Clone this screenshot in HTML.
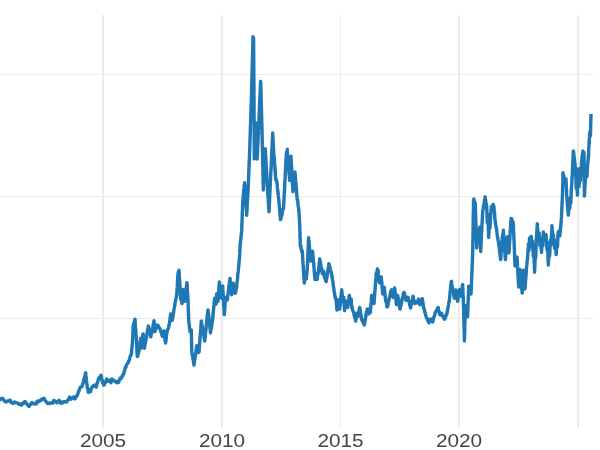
<!DOCTYPE html>
<html><head><meta charset="utf-8"><style>
html,body{margin:0;padding:0;background:#fff;}
svg{display:block;will-change:transform;}
text{font-family:"Liberation Sans",sans-serif;fill:#444;}
</style></head><body>
<svg width="600" height="450" viewBox="0 0 600 450">
<g stroke="#ebebeb" stroke-width="1" fill="none">
<line x1="0" y1="74.5" x2="593" y2="74.5"/>
<line x1="0" y1="196.5" x2="593" y2="196.5"/>
<line x1="0" y1="318.5" x2="593" y2="318.5"/>
</g>
<g stroke="#ebebeb" stroke-width="2" fill="none">
<line x1="103" y1="15" x2="103" y2="427.5"/>
<line x1="222" y1="15" x2="222" y2="427.5"/>
<line x1="340.5" y1="15" x2="340.5" y2="427.5" stroke-width="1"/>
<line x1="459" y1="15" x2="459" y2="427.5"/>
<line x1="578" y1="15" x2="578" y2="427.5"/>
</g>
<path d="M-2.00,399.00 L-1.00,399.09 L0.00,399.77 L1.00,398.80 L2.00,398.22 L2.83,398.50 L3.65,399.67 L4.47,401.20 L5.30,401.40 L6.30,401.96 L7.30,401.06 L8.30,400.96 L9.30,400.46 L10.10,400.02 L10.90,402.20 L11.70,402.63 L12.50,403.26 L13.30,403.19 L14.30,401.91 L15.30,402.51 L16.30,402.74 L17.30,403.11 L18.30,403.47 L19.30,404.37 L20.30,404.05 L21.30,405.09 L21.98,404.47 L22.66,403.16 L23.34,403.71 L24.02,402.34 L24.70,401.56 L25.37,401.89 L26.03,402.73 L26.70,403.93 L27.47,404.71 L28.23,405.88 L29.00,406.35 L29.60,405.35 L30.20,404.36 L30.80,403.87 L31.40,404.06 L32.00,402.53 L32.90,403.31 L33.80,403.87 L34.70,403.57 L35.50,403.57 L36.30,403.97 L37.10,401.24 L37.90,401.94 L38.70,401.67 L39.53,400.58 L40.35,400.82 L41.17,399.86 L42.00,398.92 L43.00,399.21 L44.00,398.18 L44.54,399.39 L45.08,400.56 L45.62,400.99 L46.16,401.82 L46.70,402.46 L47.53,403.49 L48.35,402.89 L49.17,403.33 L50.00,403.62 L50.94,402.80 L51.88,402.56 L52.82,403.26 L53.76,400.45 L54.70,400.90 L55.70,401.54 L56.70,402.72 L57.70,401.87 L58.70,400.55 L59.37,400.55 L60.03,402.83 L60.70,403.14 L61.53,402.05 L62.35,402.96 L63.17,402.54 L64.00,401.34 L64.90,401.54 L65.80,401.73 L66.70,401.93 L67.37,400.75 L68.03,399.84 L68.70,398.81 L69.70,397.10 L70.70,399.16 L71.70,398.59 L72.70,397.68 L73.70,396.99 L74.70,398.84 L75.22,398.62 L75.74,396.49 L76.26,396.51 L76.78,396.31 L77.30,394.73 L77.64,394.81 L77.97,393.42 L78.31,392.19 L78.65,391.50 L78.99,390.74 L79.33,389.58 L79.66,389.14 L80.00,387.58 L81.00,386.71 L82.00,386.59 L82.29,385.37 L82.57,384.01 L82.86,383.91 L83.14,383.21 L83.43,381.38 L83.71,379.99 L84.00,379.67 L84.24,378.67 L84.49,377.65 L84.73,377.49 L84.97,375.38 L85.21,375.52 L85.46,373.35 L85.70,372.85 L85.81,374.29 L85.92,375.52 L86.03,376.39 L86.13,377.16 L86.24,378.06 L86.35,379.07 L86.46,380.26 L86.57,380.92 L86.67,382.12 L86.78,383.25 L86.89,384.00 L87.00,385.13 L87.20,386.29 L87.40,387.97 L87.60,388.27 L87.80,388.99 L88.00,390.05 L88.20,391.25 L88.40,392.46 L89.17,391.62 L89.93,391.72 L90.70,391.54 L91.03,388.84 L91.35,388.49 L91.67,388.11 L92.00,387.07 L92.90,386.50 L93.80,385.37 L94.70,385.18 L95.35,386.15 L96.00,386.89 L96.33,387.12 L96.67,385.17 L97.00,383.74 L97.33,382.95 L97.67,381.89 L98.00,380.99 L98.43,378.74 L98.86,379.03 L99.29,378.95 L99.71,376.96 L100.14,376.68 L100.57,376.36 L101.00,375.18 L101.21,376.70 L101.42,376.21 L101.64,377.84 L101.85,378.84 L102.06,380.29 L102.28,381.50 L102.49,380.78 L102.70,383.20 L103.35,383.22 L104.00,385.15 L104.39,383.41 L104.77,383.37 L105.16,383.02 L105.54,381.50 L105.93,380.81 L106.31,380.26 L106.70,379.03 L107.57,379.60 L108.43,381.41 L109.30,381.29 L110.15,380.42 L111.00,382.74 L111.85,379.02 L112.70,380.02 L113.53,380.00 L114.35,380.80 L115.17,381.74 L116.00,381.77 L116.77,382.63 L117.53,381.39 L118.30,382.54 L118.70,382.42 L119.10,380.75 L119.50,379.83 L119.90,378.72 L120.30,379.23 L120.70,377.85 L121.47,378.04 L122.23,375.72 L123.00,375.70 L123.29,374.15 L123.58,374.07 L123.86,373.48 L124.15,371.26 L124.44,371.47 L124.72,370.19 L125.01,368.61 L125.30,367.30 L125.80,367.48 L126.30,365.65 L126.80,364.36 L127.30,363.79 L127.77,363.03 L128.23,362.75 L128.70,360.77 L129.02,360.60 L129.35,359.79 L129.68,358.77 L130.00,356.96 L130.43,355.58 L130.87,355.58 L131.30,354.03 L131.41,353.06 L131.52,352.73 L131.63,350.86 L131.74,348.80 L131.86,348.80 L131.97,347.03 L132.08,347.43 L132.19,346.17 L132.30,344.87 L132.35,343.99 L132.40,343.44 L132.45,342.04 L132.50,341.71 L132.55,339.97 L132.60,339.57 L132.65,338.81 L132.70,337.88 L132.75,335.63 L132.80,335.49 L132.85,332.96 L132.90,332.40 L132.95,330.90 L133.00,331.60 L133.05,329.30 L133.10,328.99 L133.15,327.89 L133.20,326.98 L133.25,325.66 L133.30,325.05 L133.58,325.19 L133.87,323.19 L134.15,322.58 L134.43,321.96 L134.72,320.29 L135.00,319.18 L135.07,320.16 L135.14,322.11 L135.21,321.51 L135.27,323.11 L135.34,325.03 L135.41,325.89 L135.48,326.43 L135.55,327.88 L135.62,328.50 L135.68,328.73 L135.75,329.50 L135.82,331.01 L135.89,332.88 L135.96,333.04 L136.03,333.84 L136.09,334.91 L136.16,335.48 L136.23,337.25 L136.30,338.04 L136.35,339.48 L136.41,338.99 L136.46,341.43 L136.51,341.89 L136.56,342.19 L136.62,344.59 L136.67,345.04 L136.72,345.00 L136.77,346.70 L136.83,348.29 L136.88,348.89 L136.93,350.51 L136.98,351.48 L137.04,352.42 L137.09,353.23 L137.14,354.72 L137.19,355.36 L137.25,356.24 L137.30,356.58 L137.54,356.51 L137.79,355.78 L138.03,353.97 L138.27,352.92 L138.51,353.25 L138.76,350.31 L139.00,350.40 L139.14,350.57 L139.28,347.81 L139.43,347.67 L139.57,347.30 L139.71,345.24 L139.85,344.60 L139.99,343.79 L140.13,341.81 L140.27,341.25 L140.42,340.46 L140.56,339.75 L140.70,338.29 L140.81,339.24 L140.92,339.84 L141.03,341.24 L141.14,342.96 L141.26,343.58 L141.37,344.11 L141.48,345.16 L141.59,348.06 L141.70,347.94 L141.79,347.04 L141.89,344.33 L141.98,345.03 L142.07,343.96 L142.16,343.60 L142.26,341.93 L142.35,340.66 L142.44,339.98 L142.54,337.64 L142.63,338.27 L142.72,336.88 L142.81,335.31 L142.91,335.44 L143.00,334.10 L143.10,333.94 L143.20,335.37 L143.30,336.92 L143.40,337.89 L143.50,338.59 L143.60,339.30 L143.70,342.00 L143.80,342.43 L143.90,342.25 L144.00,343.20 L144.10,345.84 L144.20,346.48 L144.30,347.94 L144.40,348.17 L144.60,346.49 L144.80,346.07 L145.00,343.72 L145.20,343.44 L145.40,342.78 L145.60,342.06 L145.80,340.34 L146.00,339.67 L146.16,338.98 L146.33,337.95 L146.49,337.12 L146.66,335.90 L146.82,334.62 L146.99,334.28 L147.15,332.88 L147.31,331.40 L147.48,330.53 L147.64,329.91 L147.81,328.87 L147.97,328.05 L148.14,326.98 L148.30,326.04 L148.52,326.92 L148.74,327.26 L148.95,329.25 L149.17,330.61 L149.39,331.25 L149.61,331.89 L149.83,333.26 L150.05,333.45 L150.26,333.92 L150.48,336.03 L150.70,336.79 L150.90,336.49 L151.10,334.52 L151.30,332.71 L151.50,332.68 L151.70,333.26 L151.90,331.20 L152.10,329.69 L152.30,329.11 L152.50,328.94 L152.70,327.82 L152.89,326.77 L153.07,326.52 L153.26,325.03 L153.44,323.57 L153.63,322.91 L153.81,322.52 L154.00,320.73 L154.09,322.06 L154.18,321.77 L154.27,323.28 L154.36,324.74 L154.45,325.10 L154.55,326.84 L154.64,327.52 L154.73,328.66 L154.82,328.97 L154.91,331.49 L155.00,331.28 L155.28,329.87 L155.57,329.05 L155.85,329.56 L156.13,326.79 L156.42,326.53 L156.70,325.24 L157.36,325.67 L158.02,325.36 L158.68,327.13 L159.34,327.93 L160.00,328.67 L160.30,329.77 L160.60,330.31 L160.90,331.81 L161.20,332.62 L161.50,333.42 L161.80,334.33 L162.10,335.16 L162.40,336.46 L162.66,334.63 L162.92,333.82 L163.18,333.12 L163.44,331.21 L163.70,330.90 L163.86,330.86 L164.02,332.61 L164.17,334.32 L164.33,335.32 L164.49,335.97 L164.65,336.87 L164.81,337.21 L164.97,340.01 L165.12,340.28 L165.28,341.60 L165.44,341.52 L165.60,342.96 L165.73,341.04 L165.86,341.47 L165.99,340.58 L166.12,338.05 L166.25,338.09 L166.38,337.49 L166.52,335.18 L166.65,334.16 L166.78,333.61 L166.91,332.88 L167.04,331.46 L167.17,331.29 L167.30,330.36 L167.63,329.81 L167.97,328.97 L168.30,328.59 L168.63,327.50 L168.97,325.06 L169.30,324.87 L169.43,323.38 L169.55,322.37 L169.68,321.95 L169.81,321.00 L169.94,320.29 L170.06,318.05 L170.19,317.26 L170.32,316.99 L170.45,315.88 L170.57,314.81 L170.70,313.98 L170.93,314.53 L171.16,316.43 L171.39,317.22 L171.61,317.95 L171.84,318.59 L172.07,319.89 L172.30,320.34 L172.44,319.44 L172.58,319.07 L172.73,317.17 L172.87,317.22 L173.01,316.21 L173.15,314.31 L173.29,314.02 L173.43,313.01 L173.57,312.51 L173.72,311.63 L173.86,310.25 L174.00,309.09 L174.18,308.24 L174.36,307.31 L174.54,306.85 L174.72,305.59 L174.90,303.97 L175.08,302.59 L175.26,302.25 L175.44,301.03 L175.62,299.82 L175.80,299.49 L175.98,298.27 L176.16,297.69 L176.34,296.99 L176.52,295.40 L176.70,295.32 L176.76,293.47 L176.82,293.38 L176.89,291.72 L176.95,291.36 L177.01,288.03 L177.07,288.09 L177.13,287.73 L177.20,286.95 L177.26,287.10 L177.32,284.73 L177.38,284.36 L177.44,282.99 L177.50,282.10 L177.57,280.78 L177.63,279.31 L177.69,278.75 L177.75,276.63 L177.81,277.18 L177.88,274.63 L177.94,274.49 L178.00,273.90 L178.33,272.03 L178.67,271.11 L179.00,270.35 L179.06,271.00 L179.12,271.40 L179.18,273.13 L179.24,274.34 L179.29,275.41 L179.35,275.36 L179.41,278.09 L179.47,279.01 L179.53,278.85 L179.59,280.01 L179.65,280.51 L179.71,282.75 L179.76,282.29 L179.82,284.21 L179.88,284.41 L179.94,285.25 L180.00,286.89 L180.06,288.59 L180.12,288.69 L180.18,289.25 L180.23,291.24 L180.29,291.67 L180.35,292.90 L180.41,294.69 L180.47,295.44 L180.52,295.36 L180.58,298.17 L180.64,297.70 L180.70,298.90 L181.02,299.34 L181.35,300.82 L181.68,300.75 L182.00,303.48 L182.07,302.89 L182.14,300.27 L182.21,299.10 L182.29,298.05 L182.36,298.86 L182.43,296.83 L182.50,296.11 L182.57,294.97 L182.64,294.11 L182.71,292.50 L182.79,292.25 L182.86,290.31 L182.93,290.23 L183.00,289.38 L183.14,290.61 L183.28,291.15 L183.43,291.70 L183.57,293.41 L183.71,293.98 L183.85,296.33 L183.99,296.80 L184.13,297.22 L184.27,297.99 L184.42,298.85 L184.56,299.70 L184.70,301.21 L184.81,300.49 L184.92,299.63 L185.02,298.67 L185.13,298.66 L185.24,295.84 L185.35,295.31 L185.46,296.13 L185.57,292.07 L185.68,291.96 L185.78,291.41 L185.89,290.40 L186.00,289.41 L186.17,288.09 L186.33,287.45 L186.50,286.19 L186.67,285.63 L186.83,282.75 L187.00,282.76 L187.06,284.00 L187.12,284.30 L187.18,285.30 L187.24,287.42 L187.29,287.57 L187.35,289.42 L187.41,290.49 L187.47,291.20 L187.53,292.33 L187.59,292.93 L187.65,293.08 L187.71,294.98 L187.76,296.29 L187.82,296.66 L187.88,297.94 L187.94,299.48 L188.00,299.78 L188.03,301.41 L188.07,303.18 L188.10,302.65 L188.13,304.09 L188.17,304.91 L188.20,306.96 L188.23,307.20 L188.27,308.55 L188.30,308.58 L188.33,309.99 L188.37,310.99 L188.40,310.92 L188.43,313.87 L188.47,314.54 L188.50,313.95 L188.53,316.45 L188.57,316.92 L188.60,318.27 L188.63,319.22 L188.67,319.12 L188.70,320.95 L188.83,322.88 L188.96,322.66 L189.09,323.40 L189.22,324.21 L189.35,325.29 L189.48,327.19 L189.61,328.97 L189.74,329.25 L189.87,330.14 L190.00,331.51 L191.30,330.09 L191.32,330.91 L191.35,332.57 L191.37,333.56 L191.39,333.68 L191.41,334.59 L191.44,336.38 L191.46,337.34 L191.48,337.48 L191.50,339.07 L191.53,339.87 L191.55,341.40 L191.57,342.07 L191.60,343.08 L191.62,343.92 L191.64,345.65 L191.66,346.81 L191.69,346.88 L191.71,348.50 L191.73,348.65 L191.75,350.06 L191.78,351.40 L191.80,352.31 L191.97,352.80 L192.14,353.96 L192.31,355.10 L192.48,355.23 L192.65,357.01 L192.82,357.66 L192.98,359.19 L193.15,359.43 L193.32,360.01 L193.49,362.02 L193.66,363.13 L193.83,363.73 L194.00,365.17 L194.14,363.87 L194.28,362.70 L194.43,362.24 L194.57,360.22 L194.71,359.66 L194.85,358.99 L194.99,358.43 L195.14,356.92 L195.28,356.16 L195.42,354.66 L195.56,354.16 L195.71,353.86 L195.85,351.64 L195.99,352.23 L196.13,349.66 L196.27,349.01 L196.42,348.09 L196.56,347.54 L196.70,345.74 L197.08,345.79 L197.47,348.35 L197.85,349.45 L198.23,350.35 L198.62,352.49 L199.00,352.05 L199.07,351.13 L199.15,350.48 L199.22,349.19 L199.30,348.87 L199.37,346.35 L199.45,345.80 L199.52,343.17 L199.59,344.43 L199.67,342.80 L199.74,342.50 L199.82,342.16 L199.89,340.00 L199.96,338.86 L200.04,337.73 L200.11,336.54 L200.19,335.65 L200.26,335.35 L200.34,334.02 L200.41,333.04 L200.48,331.90 L200.56,331.52 L200.63,330.28 L200.71,328.92 L200.78,328.38 L200.85,326.91 L200.93,325.34 L201.00,325.84 L201.08,324.27 L201.15,322.44 L201.23,322.63 L201.30,321.08 L201.47,321.07 L201.64,323.95 L201.81,324.20 L201.98,325.52 L202.15,326.12 L202.32,326.91 L202.49,327.10 L202.66,329.56 L202.83,330.02 L203.00,330.84 L203.17,332.20 L203.34,333.04 L203.51,334.38 L203.68,334.79 L203.85,335.98 L204.02,335.80 L204.19,337.76 L204.36,339.37 L204.53,340.74 L204.70,340.92 L204.80,339.95 L204.91,339.90 L205.01,337.87 L205.11,337.47 L205.22,337.01 L205.32,335.12 L205.42,334.79 L205.52,332.73 L205.63,332.26 L205.73,331.11 L205.83,330.24 L205.94,329.83 L206.04,329.57 L206.14,326.84 L206.25,325.90 L206.35,325.54 L206.45,323.65 L206.56,323.57 L206.66,322.63 L206.76,321.15 L206.87,320.64 L206.97,318.42 L207.07,318.81 L207.18,316.45 L207.28,315.97 L207.38,315.07 L207.48,314.18 L207.59,313.96 L207.69,312.50 L207.79,311.22 L207.90,310.82 L208.00,309.89 L208.10,310.48 L208.21,311.68 L208.31,313.20 L208.42,313.58 L208.52,313.62 L208.62,316.88 L208.73,317.68 L208.83,316.14 L208.94,318.29 L209.04,319.54 L209.15,320.84 L209.25,321.64 L209.35,322.07 L209.46,322.59 L209.56,324.25 L209.67,325.77 L209.77,325.52 L209.88,326.53 L209.98,328.09 L210.08,327.98 L210.19,329.91 L210.29,330.79 L210.40,332.27 L210.50,332.84 L210.66,331.48 L210.81,330.73 L210.97,329.91 L211.13,328.53 L211.29,327.90 L211.44,327.31 L211.60,326.54 L211.76,325.83 L211.91,323.35 L212.07,322.54 L212.23,320.29 L212.39,321.88 L212.54,319.29 L212.70,318.69 L212.79,318.03 L212.87,315.93 L212.96,316.04 L213.05,314.76 L213.13,312.69 L213.22,313.00 L213.31,312.57 L213.39,309.71 L213.48,310.38 L213.57,309.03 L213.65,308.21 L213.74,307.22 L213.83,306.78 L213.91,304.84 L214.00,304.22 L214.12,302.74 L214.23,302.46 L214.35,300.48 L214.47,299.93 L214.58,300.12 L214.70,298.12 L214.92,298.90 L215.13,299.25 L215.35,300.48 L215.57,302.13 L215.78,303.61 L216.00,304.11 L216.06,303.38 L216.13,302.06 L216.19,302.00 L216.25,299.93 L216.32,298.88 L216.38,298.84 L216.45,297.36 L216.51,296.18 L216.57,295.04 L216.64,294.29 L216.70,293.66 L216.86,294.71 L217.02,294.65 L217.19,296.71 L217.35,297.52 L217.51,297.72 L217.68,299.85 L217.84,300.14 L218.00,301.21 L218.07,300.82 L218.14,300.17 L218.21,297.89 L218.27,297.62 L218.34,295.79 L218.41,296.87 L218.48,294.05 L218.55,294.17 L218.62,291.97 L218.68,291.94 L218.75,291.88 L218.82,287.74 L218.89,288.15 L218.96,287.78 L219.03,286.40 L219.09,285.02 L219.16,285.93 L219.23,283.54 L219.30,282.05 L219.43,284.10 L219.55,283.35 L219.68,286.32 L219.80,286.16 L219.93,287.66 L220.05,289.42 L220.18,289.67 L220.30,289.67 L220.43,290.49 L220.55,293.41 L220.68,294.13 L220.80,294.11 L220.93,296.22 L221.05,297.00 L221.18,298.11 L221.30,298.12 L221.41,297.53 L221.52,297.33 L221.62,296.25 L221.73,295.37 L221.84,292.20 L221.95,292.95 L222.05,292.19 L222.16,292.58 L222.27,289.27 L222.38,288.71 L222.48,287.98 L222.59,287.57 L222.70,285.88 L222.76,287.77 L222.81,287.48 L222.87,289.18 L222.92,289.65 L222.98,291.10 L223.03,291.55 L223.09,291.95 L223.14,294.71 L223.20,295.20 L223.25,295.64 L223.31,297.13 L223.36,298.64 L223.42,298.37 L223.47,299.93 L223.53,301.34 L223.58,302.33 L223.64,302.79 L223.69,302.68 L223.75,305.78 L223.80,306.20 L223.86,307.01 L223.91,307.83 L223.97,309.16 L224.02,309.74 L224.08,310.37 L224.13,311.55 L224.19,312.64 L224.24,313.63 L224.30,314.72 L224.37,314.40 L224.44,312.24 L224.52,312.45 L224.59,310.45 L224.66,310.30 L224.73,309.95 L224.81,308.24 L224.88,306.68 L224.95,306.18 L225.02,305.26 L225.09,303.09 L225.17,302.82 L225.24,302.32 L225.31,300.94 L225.38,300.30 L225.46,299.74 L225.53,298.78 L225.60,297.53 L226.17,298.66 L226.73,298.87 L227.30,299.99 L227.43,298.80 L227.55,297.74 L227.68,296.80 L227.81,294.76 L227.94,294.65 L228.06,293.82 L228.19,292.17 L228.32,291.77 L228.45,291.10 L228.57,289.62 L228.70,289.26 L228.83,285.97 L228.96,286.62 L229.09,284.55 L229.22,285.49 L229.35,285.66 L229.48,281.16 L229.61,282.00 L229.74,281.30 L229.87,279.76 L230.00,279.15 L230.11,278.43 L230.21,281.55 L230.32,282.20 L230.43,282.94 L230.53,283.51 L230.64,285.32 L230.74,285.54 L230.85,287.00 L230.96,287.49 L231.06,287.31 L231.17,289.77 L231.27,290.91 L231.38,292.26 L231.49,292.16 L231.59,293.70 L231.70,294.86 L231.81,293.82 L231.92,293.57 L232.02,293.09 L232.13,290.20 L232.24,288.54 L232.35,289.42 L232.46,288.90 L232.57,287.52 L232.68,286.48 L232.78,284.53 L232.89,283.49 L233.00,283.24 L233.21,283.30 L233.42,283.61 L233.63,285.12 L233.84,288.47 L234.05,289.01 L234.25,288.15 L234.46,289.06 L234.67,290.65 L234.88,290.92 L235.09,293.25 L235.30,293.28 L235.50,291.62 L235.70,292.30 L235.90,290.07 L236.10,289.68 L236.30,288.58 L236.50,287.43 L236.70,286.79 L236.80,285.20 L236.90,283.39 L237.00,282.11 L237.10,281.71 L237.20,281.03 L237.30,280.50 L237.40,279.52 L237.50,278.84 L237.60,277.51 L237.70,275.84 L237.80,274.87 L237.90,272.84 L238.00,273.25 L238.10,272.62 L238.20,271.63 L238.30,270.14 L238.40,269.08 L238.50,268.86 L238.60,267.17 L238.70,266.67 L238.80,265.54 L238.90,264.25 L239.00,264.02 L239.10,261.63 L239.20,260.76 L239.30,259.76 L239.36,258.41 L239.42,259.15 L239.48,258.30 L239.54,256.02 L239.59,255.42 L239.65,254.88 L239.71,253.61 L239.77,252.91 L239.83,250.05 L239.89,249.52 L239.95,249.34 L240.01,249.09 L240.06,247.08 L240.12,245.34 L240.18,244.73 L240.24,243.49 L240.30,242.73 L240.41,243.17 L240.52,240.51 L240.62,240.02 L240.73,240.71 L240.84,238.94 L240.95,237.27 L241.05,235.51 L241.16,235.33 L241.27,235.30 L241.38,233.50 L241.48,233.02 L241.59,231.08 L241.70,230.17 L241.74,228.84 L241.77,228.35 L241.81,228.06 L241.84,224.83 L241.88,224.95 L241.92,224.20 L241.95,222.53 L241.99,221.75 L242.02,221.65 L242.06,221.66 L242.10,219.52 L242.13,218.27 L242.17,215.70 L242.20,217.62 L242.24,215.06 L242.28,213.97 L242.31,212.05 L242.35,211.95 L242.38,210.07 L242.42,210.06 L242.46,209.40 L242.49,208.03 L242.53,207.24 L242.56,205.27 L242.60,205.49 L242.67,203.43 L242.74,201.41 L242.81,201.84 L242.88,200.33 L242.95,199.11 L243.02,198.69 L243.09,198.26 L243.16,195.95 L243.23,195.88 L243.30,195.51 L243.41,194.61 L243.52,192.86 L243.62,192.12 L243.73,190.89 L243.84,189.96 L243.95,189.67 L244.06,187.92 L244.17,184.80 L244.28,185.98 L244.38,184.18 L244.49,184.60 L244.60,182.77 L244.67,184.14 L244.73,186.99 L244.80,185.04 L244.86,185.98 L244.93,186.72 L244.99,186.83 L245.06,188.30 L245.12,191.33 L245.19,191.43 L245.26,191.33 L245.32,192.68 L245.39,195.55 L245.45,195.31 L245.52,196.67 L245.58,198.29 L245.65,200.20 L245.72,201.71 L245.78,201.90 L245.85,202.13 L245.91,203.16 L245.98,205.57 L246.04,206.24 L246.11,205.73 L246.17,207.39 L246.24,208.25 L246.31,209.04 L246.37,209.57 L246.44,209.87 L246.50,211.55 L246.57,211.69 L246.63,215.03 L246.70,215.18 L246.75,212.98 L246.81,214.18 L246.86,212.76 L246.91,209.37 L246.97,211.57 L247.02,209.69 L247.07,209.77 L247.13,205.94 L247.18,206.46 L247.23,205.37 L247.29,204.18 L247.34,203.15 L247.39,202.92 L247.45,199.69 L247.50,198.91 L247.55,197.77 L247.61,197.51 L247.66,196.46 L247.71,196.33 L247.77,195.24 L247.82,194.03 L247.87,192.39 L247.93,191.60 L247.98,191.86 L248.03,190.69 L248.09,189.09 L248.14,187.71 L248.19,188.41 L248.25,185.46 L248.30,185.24 L248.34,185.06 L248.38,182.76 L248.42,182.76 L248.46,179.97 L248.50,180.94 L248.54,179.19 L248.58,176.52 L248.62,177.62 L248.66,175.17 L248.70,176.20 L248.74,173.36 L248.78,172.84 L248.82,172.27 L248.86,170.69 L248.90,170.25 L248.94,168.47 L248.98,168.64 L249.02,167.01 L249.06,166.20 L249.10,162.35 L249.14,165.12 L249.18,163.03 L249.22,160.27 L249.26,161.09 L249.30,160.45 L249.34,160.04 L249.38,156.94 L249.42,158.52 L249.46,155.84 L249.50,157.36 L249.54,153.86 L249.58,153.67 L249.62,151.64 L249.66,149.89 L249.70,150.44 L249.73,149.91 L249.76,149.54 L249.80,147.86 L249.83,145.42 L249.86,143.32 L249.89,143.34 L249.92,142.32 L249.96,141.17 L249.99,141.59 L250.02,140.33 L250.05,138.72 L250.08,138.18 L250.12,136.85 L250.15,136.22 L250.18,135.78 L250.21,134.99 L250.24,132.29 L250.28,130.43 L250.31,132.49 L250.34,130.12 L250.37,130.16 L250.40,126.28 L250.44,126.65 L250.47,126.03 L250.50,124.39 L250.53,123.45 L250.57,123.77 L250.60,123.15 L250.63,122.70 L250.67,119.08 L250.70,117.50 L250.73,118.56 L250.77,118.01 L250.80,116.21 L250.83,113.59 L250.87,114.85 L250.90,113.86 L250.93,112.60 L250.97,110.47 L251.00,110.33 L251.03,109.87 L251.07,107.39 L251.10,104.97 L251.13,106.36 L251.17,105.53 L251.20,104.01 L251.23,103.99 L251.27,101.35 L251.30,100.91 L251.33,99.66 L251.37,99.64 L251.40,99.79 L251.43,96.72 L251.47,98.32 L251.50,95.69 L251.53,94.89 L251.55,93.67 L251.58,94.01 L251.60,90.79 L251.63,89.87 L251.66,87.79 L251.68,88.54 L251.71,88.54 L251.73,86.61 L251.76,85.49 L251.78,83.77 L251.81,83.20 L251.84,80.35 L251.86,82.22 L251.89,79.52 L251.91,77.71 L251.94,77.12 L251.97,76.03 L251.99,77.00 L252.02,76.25 L252.04,72.40 L252.07,74.09 L252.09,73.05 L252.12,70.31 L252.15,68.23 L252.17,68.11 L252.20,67.24 L252.22,67.41 L252.25,65.57 L252.28,62.56 L252.30,64.28 L252.33,61.15 L252.35,63.09 L252.38,59.54 L252.41,59.16 L252.43,57.96 L252.46,57.34 L252.48,58.58 L252.51,57.04 L252.53,55.74 L252.56,54.39 L252.59,51.10 L252.61,51.36 L252.64,50.32 L252.66,48.79 L252.69,49.63 L252.72,47.08 L252.74,46.12 L252.77,44.70 L252.79,42.43 L252.82,44.74 L252.84,44.67 L252.87,42.22 L252.90,39.77 L252.92,36.59 L252.95,39.22 L252.97,39.54 L253.00,37.15 L253.60,38.17 L253.61,39.87 L253.61,40.42 L253.62,39.44 L253.63,42.32 L253.63,42.97 L253.64,41.07 L253.64,43.49 L253.65,43.22 L253.66,45.86 L253.66,47.72 L253.67,46.67 L253.68,46.45 L253.68,51.60 L253.69,51.46 L253.70,53.81 L253.70,51.37 L253.71,55.30 L253.71,57.54 L253.72,58.45 L253.73,56.74 L253.73,58.33 L253.74,58.81 L253.75,61.21 L253.75,62.26 L253.76,62.11 L253.77,61.36 L253.77,64.89 L253.78,64.44 L253.78,66.75 L253.79,67.31 L253.80,69.94 L253.80,70.35 L253.81,69.46 L253.82,71.41 L253.82,74.09 L253.83,72.37 L253.83,74.51 L253.84,76.40 L253.85,77.48 L253.85,77.61 L253.86,76.46 L253.87,77.53 L253.87,80.29 L253.88,81.45 L253.89,84.95 L253.89,82.00 L253.90,85.31 L253.90,85.89 L253.91,84.08 L253.92,86.06 L253.92,88.19 L253.93,88.44 L253.94,89.82 L253.94,91.53 L253.95,91.08 L253.96,93.53 L253.96,93.28 L253.97,94.39 L253.97,96.60 L253.98,96.36 L253.99,98.32 L253.99,100.79 L254.00,100.01 L254.01,100.84 L254.01,102.82 L254.02,102.59 L254.02,105.20 L254.03,103.58 L254.03,106.68 L254.04,106.44 L254.04,107.12 L254.05,110.94 L254.05,109.07 L254.06,112.91 L254.06,112.72 L254.07,114.58 L254.07,112.94 L254.08,116.29 L254.08,117.57 L254.09,116.87 L254.09,117.86 L254.10,121.63 L254.10,120.19 L254.11,120.55 L254.11,121.33 L254.12,123.47 L254.12,124.35 L254.13,125.19 L254.13,127.81 L254.14,126.66 L254.14,128.50 L254.15,130.53 L254.16,128.95 L254.16,132.08 L254.17,133.90 L254.17,131.60 L254.18,132.86 L254.18,133.93 L254.19,134.10 L254.19,137.47 L254.20,136.10 L254.20,139.51 L254.21,141.48 L254.21,139.36 L254.22,141.68 L254.22,141.06 L254.23,144.79 L254.23,144.26 L254.24,145.73 L254.24,147.05 L254.25,148.55 L254.25,148.65 L254.26,150.02 L254.26,150.46 L254.27,152.11 L254.27,151.84 L254.28,154.06 L254.28,153.10 L254.29,155.52 L254.29,158.88 L254.30,158.03 L254.35,155.76 L254.41,156.25 L254.46,154.04 L254.52,152.37 L254.57,152.27 L254.63,152.73 L254.68,151.38 L254.73,149.90 L254.79,148.07 L254.84,146.92 L254.90,148.36 L254.95,146.25 L255.01,144.04 L255.06,141.86 L255.11,141.61 L255.17,144.52 L255.22,139.83 L255.28,139.92 L255.33,139.22 L255.39,137.84 L255.44,136.71 L255.49,134.58 L255.55,133.91 L255.60,135.75 L255.66,132.21 L255.71,132.88 L255.77,129.23 L255.82,129.71 L255.87,129.27 L255.93,129.09 L255.98,125.82 L256.04,126.63 L256.09,125.41 L256.15,123.22 L256.20,123.20 L256.23,123.05 L256.26,124.16 L256.28,125.98 L256.31,124.15 L256.34,127.88 L256.37,127.95 L256.39,128.47 L256.42,130.56 L256.45,132.79 L256.48,132.58 L256.51,135.31 L256.53,133.80 L256.56,134.65 L256.59,138.59 L256.62,138.41 L256.64,139.97 L256.67,139.16 L256.70,141.82 L256.73,142.26 L256.76,143.66 L256.78,144.03 L256.81,146.22 L256.84,145.35 L256.87,146.03 L256.89,146.52 L256.92,150.16 L256.95,149.26 L256.98,149.96 L257.01,151.07 L257.03,152.56 L257.06,152.75 L257.09,154.71 L257.12,155.38 L257.14,156.46 L257.17,157.06 L257.20,159.01 L257.24,157.55 L257.29,157.11 L257.33,156.25 L257.38,155.34 L257.42,151.84 L257.46,152.47 L257.51,151.21 L257.55,151.77 L257.60,148.43 L257.64,148.29 L257.68,147.71 L257.73,146.66 L257.77,147.00 L257.81,144.55 L257.86,144.98 L257.90,141.51 L257.95,140.16 L257.99,142.24 L258.03,140.45 L258.08,139.50 L258.12,138.13 L258.17,137.50 L258.21,134.75 L258.25,135.98 L258.30,133.45 L258.34,134.02 L258.39,132.09 L258.43,128.94 L258.47,128.65 L258.52,130.18 L258.56,127.86 L258.60,126.58 L258.65,126.26 L258.69,124.55 L258.74,123.42 L258.78,123.11 L258.82,122.15 L258.87,122.62 L258.91,120.05 L258.96,121.02 L259.00,118.77 L259.05,118.85 L259.09,117.15 L259.14,115.14 L259.18,114.15 L259.23,112.85 L259.28,111.20 L259.32,110.93 L259.37,109.30 L259.41,110.80 L259.46,108.59 L259.51,106.51 L259.55,103.89 L259.60,104.94 L259.64,103.54 L259.69,101.79 L259.74,100.74 L259.78,98.49 L259.83,100.64 L259.87,98.93 L259.92,100.90 L259.96,96.97 L260.01,95.83 L260.06,96.63 L260.10,94.15 L260.15,93.19 L260.19,91.58 L260.24,90.31 L260.29,91.71 L260.33,90.14 L260.38,89.97 L260.42,86.60 L260.47,86.03 L260.52,83.98 L260.56,85.12 L260.61,81.39 L260.65,82.66 L260.70,81.51 L260.73,83.64 L260.75,81.91 L260.78,85.26 L260.81,84.18 L260.83,85.13 L260.86,85.48 L260.89,89.32 L260.91,90.88 L260.94,89.32 L260.97,90.14 L260.99,91.61 L261.02,95.84 L261.04,95.14 L261.07,94.39 L261.10,93.98 L261.12,96.24 L261.15,99.33 L261.18,101.09 L261.20,99.70 L261.23,100.23 L261.26,101.43 L261.28,100.91 L261.31,105.01 L261.34,103.80 L261.36,107.17 L261.39,105.12 L261.42,106.61 L261.44,109.32 L261.47,109.17 L261.50,111.85 L261.52,112.01 L261.55,111.72 L261.58,114.67 L261.60,115.91 L261.63,113.94 L261.66,118.96 L261.68,118.53 L261.71,119.81 L261.73,118.01 L261.76,120.23 L261.79,121.63 L261.81,124.14 L261.84,122.45 L261.87,124.07 L261.89,123.86 L261.92,126.75 L261.95,128.36 L261.97,127.23 L262.00,129.75 L262.02,131.53 L262.04,133.65 L262.06,133.69 L262.09,133.69 L262.11,133.78 L262.13,135.04 L262.15,136.32 L262.17,138.15 L262.19,138.95 L262.22,141.70 L262.24,141.29 L262.26,140.91 L262.28,144.56 L262.30,144.96 L262.32,145.10 L262.35,145.27 L262.37,145.12 L262.39,146.98 L262.41,149.91 L262.43,149.20 L262.45,149.69 L262.48,152.19 L262.50,153.24 L262.52,154.60 L262.54,155.65 L262.56,157.38 L262.58,156.18 L262.61,158.96 L262.63,158.04 L262.65,160.67 L262.67,161.17 L262.69,162.24 L262.72,163.93 L262.74,163.98 L262.76,166.07 L262.78,166.84 L262.80,167.13 L262.82,167.46 L262.85,168.28 L262.87,169.50 L262.89,170.81 L262.91,171.98 L262.93,175.81 L262.95,174.60 L262.98,175.72 L263.00,175.20 L263.02,176.34 L263.04,177.70 L263.06,179.18 L263.08,179.04 L263.11,182.49 L263.13,181.48 L263.15,183.99 L263.17,181.86 L263.19,184.99 L263.21,186.25 L263.24,187.17 L263.26,188.54 L263.28,189.25 L263.30,190.06 L263.34,187.29 L263.38,187.35 L263.42,184.87 L263.46,186.57 L263.50,185.28 L263.54,183.82 L263.58,182.25 L263.62,181.46 L263.66,182.70 L263.70,181.60 L263.74,178.95 L263.78,179.20 L263.82,175.52 L263.86,174.19 L263.90,174.55 L263.94,173.18 L263.98,172.47 L264.02,172.18 L264.06,173.86 L264.10,169.37 L264.14,169.05 L264.18,168.26 L264.22,166.97 L264.26,166.89 L264.30,166.71 L264.34,162.80 L264.38,163.16 L264.42,161.74 L264.46,161.35 L264.50,159.40 L264.57,157.32 L264.63,155.81 L264.70,157.64 L264.77,156.36 L264.83,155.28 L264.90,151.91 L264.97,152.92 L265.03,151.58 L265.10,149.97 L265.17,149.50 L265.23,150.16 L265.30,148.72 L265.35,149.46 L265.41,150.98 L265.46,150.85 L265.51,152.51 L265.57,153.46 L265.62,154.95 L265.67,155.32 L265.73,156.23 L265.78,157.23 L265.83,157.71 L265.88,161.51 L265.94,160.81 L265.99,161.71 L266.04,164.50 L266.10,164.62 L266.15,162.75 L266.20,165.90 L266.26,167.02 L266.31,169.01 L266.36,169.44 L266.42,169.91 L266.47,169.04 L266.52,170.32 L266.57,172.38 L266.63,173.59 L266.68,173.13 L266.73,174.72 L266.79,175.69 L266.84,177.10 L266.89,178.34 L266.95,178.75 L267.00,179.54 L267.06,182.15 L267.12,183.47 L267.19,182.90 L267.25,184.94 L267.31,185.41 L267.38,186.60 L267.44,187.44 L267.50,187.31 L267.56,189.52 L267.62,190.91 L267.69,190.19 L267.75,193.77 L267.81,194.87 L267.88,195.63 L267.94,196.77 L268.00,196.66 L268.06,196.70 L268.12,197.47 L268.19,198.28 L268.25,200.10 L268.31,200.97 L268.38,202.59 L268.44,201.24 L268.50,206.01 L268.56,206.97 L268.62,205.98 L268.69,207.58 L268.75,208.41 L268.81,209.23 L268.88,209.82 L268.94,210.90 L269.00,211.72 L269.05,211.15 L269.09,209.98 L269.14,209.27 L269.19,207.27 L269.23,207.03 L269.28,206.04 L269.33,205.52 L269.38,203.08 L269.42,203.37 L269.47,202.86 L269.52,201.52 L269.56,199.68 L269.61,198.57 L269.66,197.79 L269.70,197.65 L269.75,197.38 L269.80,194.86 L269.84,193.43 L269.89,193.34 L269.94,192.18 L269.98,190.18 L270.03,189.34 L270.08,188.91 L270.12,188.61 L270.17,185.92 L270.22,185.07 L270.27,185.46 L270.31,182.88 L270.36,183.10 L270.41,182.32 L270.45,180.90 L270.50,179.62 L270.55,178.94 L270.59,177.69 L270.64,177.31 L270.69,175.22 L270.73,176.02 L270.78,172.43 L270.83,172.83 L270.87,172.01 L270.92,171.91 L270.97,169.42 L271.01,169.52 L271.06,167.46 L271.11,167.71 L271.16,167.67 L271.20,164.61 L271.25,164.43 L271.30,162.10 L271.34,162.94 L271.39,162.18 L271.44,160.03 L271.48,157.89 L271.53,158.39 L271.58,158.13 L271.62,157.07 L271.67,155.80 L271.72,152.19 L271.76,152.33 L271.81,153.41 L271.86,149.78 L271.90,151.13 L271.95,150.88 L272.00,148.76 L272.04,148.13 L272.09,145.66 L272.14,143.76 L272.19,143.90 L272.23,142.80 L272.28,141.95 L272.33,141.71 L272.37,139.85 L272.42,139.20 L272.47,138.44 L272.51,136.99 L272.56,137.90 L272.61,135.46 L272.65,134.09 L272.70,132.91 L272.75,133.35 L272.79,136.39 L272.84,136.15 L272.89,135.89 L272.94,137.42 L272.98,138.86 L273.03,139.54 L273.08,142.11 L273.12,140.82 L273.17,143.50 L273.22,144.15 L273.26,143.81 L273.31,146.05 L273.36,146.91 L273.41,148.50 L273.45,148.55 L273.50,150.12 L273.58,149.34 L273.66,150.92 L273.74,153.78 L273.81,155.03 L273.89,154.99 L273.97,155.41 L274.05,158.07 L274.13,155.95 L274.21,158.22 L274.29,160.66 L274.36,161.64 L274.44,161.00 L274.52,161.17 L274.60,165.40 L274.68,165.15 L274.76,165.14 L274.84,167.05 L274.91,168.86 L274.99,166.53 L275.07,171.06 L275.15,171.70 L275.23,170.03 L275.31,173.73 L275.39,172.32 L275.46,176.07 L275.54,176.37 L275.62,179.11 L275.70,177.77 L275.96,179.00 L276.22,181.01 L276.48,180.38 L276.74,181.32 L277.00,182.86 L277.10,183.93 L277.20,184.01 L277.30,186.44 L277.40,187.50 L277.50,188.07 L277.60,190.55 L277.70,189.70 L277.80,192.18 L277.90,191.51 L278.00,193.68 L278.10,192.26 L278.20,195.18 L278.30,195.84 L278.40,196.56 L278.50,197.46 L278.60,198.69 L278.70,199.36 L278.80,199.07 L278.90,201.48 L279.00,202.52 L279.10,203.54 L279.20,204.08 L279.30,205.88 L279.40,207.68 L279.50,207.78 L279.60,208.58 L279.70,210.47 L279.78,211.78 L279.86,212.69 L279.94,213.83 L280.02,213.52 L280.10,214.64 L280.18,216.64 L280.26,216.18 L280.34,217.50 L280.42,218.87 L280.50,219.62 L280.75,218.30 L281.00,218.44 L281.25,216.47 L281.50,216.30 L281.75,215.65 L282.00,214.33 L282.25,213.44 L282.50,210.80 L282.75,209.71 L283.00,209.36 L283.25,209.38 L283.50,208.54 L283.55,205.95 L283.61,206.26 L283.66,204.26 L283.71,203.36 L283.77,202.76 L283.82,202.60 L283.88,201.19 L283.93,201.04 L283.98,198.13 L284.04,198.78 L284.09,197.82 L284.14,196.06 L284.20,195.42 L284.25,193.50 L284.30,192.02 L284.36,191.64 L284.41,190.42 L284.46,192.61 L284.52,188.56 L284.57,189.50 L284.62,187.18 L284.68,186.28 L284.73,185.68 L284.79,183.29 L284.84,183.84 L284.89,182.35 L284.95,179.60 L285.00,180.22 L285.05,179.51 L285.10,178.42 L285.16,178.48 L285.21,175.61 L285.26,175.48 L285.31,174.70 L285.36,172.15 L285.42,173.13 L285.47,169.63 L285.52,168.77 L285.57,169.50 L285.62,166.96 L285.68,166.89 L285.73,164.42 L285.78,165.07 L285.83,162.91 L285.88,163.33 L285.94,160.51 L285.99,161.44 L286.04,159.74 L286.09,159.06 L286.14,157.93 L286.20,157.13 L286.25,154.70 L286.30,153.99 L286.50,154.03 L286.70,152.05 L286.90,151.54 L287.10,151.44 L287.30,149.19 L287.38,150.24 L287.45,151.39 L287.53,151.95 L287.61,154.32 L287.69,154.86 L287.76,155.19 L287.84,156.03 L287.92,158.79 L288.00,158.35 L288.07,160.57 L288.15,161.44 L288.23,160.16 L288.31,161.95 L288.38,164.00 L288.46,165.33 L288.54,166.75 L288.62,167.77 L288.69,168.99 L288.77,168.64 L288.85,169.80 L288.93,171.74 L289.00,171.60 L289.08,174.00 L289.16,172.50 L289.24,175.61 L289.31,175.84 L289.39,175.16 L289.47,178.91 L289.55,179.29 L289.62,180.02 L289.70,180.60 L289.75,179.59 L289.80,180.44 L289.86,177.29 L289.91,173.84 L289.96,175.30 L290.01,174.00 L290.06,174.02 L290.12,172.79 L290.17,171.32 L290.22,170.40 L290.27,171.21 L290.32,167.87 L290.38,170.13 L290.43,166.76 L290.48,165.25 L290.53,166.08 L290.58,164.88 L290.64,162.35 L290.69,163.11 L290.74,159.61 L290.79,159.52 L290.84,160.54 L290.90,158.21 L290.95,156.20 L291.00,156.70 L291.06,158.38 L291.11,158.45 L291.17,157.70 L291.22,160.11 L291.28,161.84 L291.33,163.16 L291.39,165.19 L291.44,164.15 L291.50,164.91 L291.56,166.32 L291.61,168.50 L291.67,167.43 L291.72,170.56 L291.78,167.70 L291.83,172.05 L291.89,171.64 L291.94,173.70 L292.00,174.90 L292.06,174.13 L292.11,176.14 L292.17,177.43 L292.22,178.74 L292.28,178.32 L292.33,179.25 L292.39,179.38 L292.44,184.48 L292.50,182.95 L292.56,183.91 L292.61,183.73 L292.67,186.93 L292.72,186.58 L292.78,189.36 L292.83,189.81 L292.89,190.05 L292.94,191.67 L293.00,191.60 L293.10,190.73 L293.20,189.53 L293.30,187.92 L293.40,188.12 L293.50,186.99 L293.60,187.47 L293.70,182.09 L293.80,183.58 L293.90,182.38 L294.00,181.82 L294.10,181.67 L294.20,180.68 L294.30,179.35 L294.40,177.91 L294.50,177.84 L294.60,176.74 L294.70,173.69 L294.80,174.20 L294.90,172.17 L295.00,172.05 L295.08,173.62 L295.16,174.52 L295.24,175.55 L295.32,175.60 L295.40,177.21 L295.48,177.53 L295.56,179.72 L295.64,180.98 L295.72,182.94 L295.80,183.47 L295.88,182.54 L295.96,183.84 L296.04,184.38 L296.12,186.50 L296.20,189.00 L296.28,188.82 L296.36,187.17 L296.44,189.00 L296.52,189.95 L296.60,192.56 L296.68,193.08 L296.76,194.33 L296.84,196.63 L296.92,195.28 L297.00,196.70 L297.13,199.75 L297.27,199.30 L297.40,199.31 L297.53,199.20 L297.67,200.65 L297.80,200.85 L297.93,204.06 L298.07,205.04 L298.20,206.87 L298.33,206.88 L298.47,207.40 L298.60,208.36 L298.73,211.64 L298.87,209.48 L299.00,212.06 L299.05,213.02 L299.11,214.52 L299.16,214.66 L299.22,216.42 L299.27,217.68 L299.32,217.88 L299.38,218.62 L299.43,219.85 L299.48,220.20 L299.54,221.83 L299.59,222.75 L299.65,224.17 L299.70,225.44 L299.73,227.06 L299.76,226.64 L299.79,228.49 L299.82,229.24 L299.85,230.61 L299.88,231.02 L299.91,232.21 L299.94,232.63 L299.97,233.38 L300.00,235.69 L300.03,237.03 L300.06,237.52 L300.09,238.34 L300.12,239.21 L300.15,239.65 L300.18,239.61 L300.21,242.51 L300.24,243.15 L300.27,243.57 L300.30,244.70 L300.59,247.00 L300.87,245.45 L301.16,249.30 L301.44,249.34 L301.73,251.69 L302.01,250.17 L302.30,251.69 L302.36,252.33 L302.43,253.84 L302.49,254.57 L302.56,255.18 L302.62,257.55 L302.69,257.18 L302.75,258.39 L302.82,260.18 L302.88,260.39 L302.95,261.48 L303.01,263.07 L303.07,263.55 L303.14,263.93 L303.20,265.76 L303.27,266.69 L303.33,269.07 L303.40,268.08 L303.46,270.56 L303.53,270.33 L303.59,271.64 L303.65,272.67 L303.72,274.10 L303.78,275.53 L303.85,277.15 L303.91,276.50 L303.98,278.87 L304.04,279.65 L304.11,280.53 L304.17,280.46 L304.24,282.60 L304.30,282.97 L304.42,282.24 L304.54,280.81 L304.66,280.46 L304.78,279.77 L304.90,278.79 L305.02,276.86 L305.14,276.70 L305.26,276.02 L305.38,273.34 L305.50,273.42 L305.63,273.06 L305.77,275.38 L305.90,276.42 L306.03,278.04 L306.17,278.19 L306.30,278.87 L306.40,277.45 L306.50,276.13 L306.60,276.54 L306.70,274.83 L306.80,273.50 L306.90,273.38 L307.00,271.46 L307.10,270.69 L307.20,269.87 L307.24,270.19 L307.28,269.07 L307.33,266.93 L307.37,264.93 L307.41,265.28 L307.45,264.14 L307.50,263.36 L307.54,262.53 L307.58,260.90 L307.62,260.83 L307.67,259.78 L307.71,258.34 L307.75,256.90 L307.79,255.86 L307.84,255.74 L307.88,253.42 L307.92,253.14 L307.96,251.71 L308.01,250.24 L308.05,250.76 L308.09,249.30 L308.13,248.36 L308.18,248.02 L308.22,245.22 L308.26,245.33 L308.30,244.62 L308.35,244.05 L308.39,241.58 L308.43,242.00 L308.47,240.63 L308.52,240.53 L308.56,239.38 L308.60,237.67 L308.69,240.17 L308.78,239.46 L308.86,240.10 L308.95,241.15 L309.04,241.66 L309.12,243.35 L309.21,242.90 L309.30,245.27 L309.39,246.64 L309.48,248.05 L309.56,248.01 L309.65,250.31 L309.74,249.73 L309.82,251.11 L309.91,250.77 L310.00,252.59 L310.09,253.55 L310.18,256.22 L310.26,256.49 L310.35,256.28 L310.44,258.45 L310.52,259.39 L310.61,259.85 L310.70,261.01 L310.77,259.78 L310.83,258.61 L310.90,256.72 L310.97,256.93 L311.03,256.93 L311.10,256.04 L311.17,253.80 L311.23,252.45 L311.30,251.94 L311.42,253.66 L311.53,254.26 L311.65,254.57 L311.77,256.26 L311.88,256.85 L312.00,258.15 L312.09,256.70 L312.17,254.93 L312.26,255.04 L312.34,254.56 L312.43,252.19 L312.51,251.92 L312.60,251.26 L312.68,251.71 L312.77,252.49 L312.85,255.43 L312.93,255.54 L313.01,256.66 L313.10,256.21 L313.18,259.06 L313.26,257.67 L313.34,259.47 L313.43,261.36 L313.51,262.76 L313.59,262.13 L313.68,263.31 L313.76,264.90 L313.84,264.39 L313.92,267.17 L314.01,268.10 L314.09,268.38 L314.17,270.04 L314.26,271.19 L314.34,271.85 L314.42,272.98 L314.50,274.64 L314.59,274.26 L314.67,275.68 L314.75,276.20 L314.83,278.23 L314.92,278.24 L315.00,279.63 L315.14,278.59 L315.29,277.55 L315.43,277.67 L315.57,275.44 L315.71,275.47 L315.86,274.07 L316.00,272.86 L316.14,273.39 L316.29,275.14 L316.43,276.02 L316.57,276.08 L316.71,277.68 L316.86,278.41 L317.00,279.49 L317.19,279.46 L317.37,277.15 L317.56,275.56 L317.74,274.58 L317.93,274.54 L318.11,273.48 L318.30,273.00 L318.40,272.39 L318.50,272.21 L318.60,270.21 L318.70,269.32 L318.80,267.49 L318.90,267.40 L319.00,266.95 L319.10,265.94 L319.20,262.63 L319.30,263.63 L319.40,263.12 L319.50,261.59 L319.60,258.94 L319.70,258.91 L319.89,260.42 L320.07,261.30 L320.26,261.42 L320.44,262.36 L320.63,264.69 L320.81,264.05 L321.00,266.41 L321.19,267.01 L321.37,268.21 L321.56,268.06 L321.74,269.58 L321.93,271.48 L322.11,270.98 L322.30,273.57 L323.00,270.96 L323.70,271.46 L323.83,273.03 L323.97,274.33 L324.10,275.50 L324.23,275.75 L324.37,276.86 L324.50,277.94 L324.93,278.44 L325.35,277.80 L325.77,281.35 L326.20,281.58 L326.36,280.63 L326.51,279.13 L326.67,278.75 L326.82,277.60 L326.98,276.59 L327.13,276.42 L327.29,273.52 L327.44,273.89 L327.60,272.02 L327.76,271.56 L327.91,271.84 L328.07,269.08 L328.22,268.79 L328.38,267.48 L328.53,267.58 L328.69,265.26 L328.84,263.79 L329.00,264.15 L329.25,264.74 L329.50,265.77 L329.75,267.78 L330.00,267.36 L330.25,268.73 L330.50,270.04 L330.80,271.37 L331.10,271.78 L331.40,273.96 L331.70,274.93 L331.84,275.02 L331.99,277.56 L332.13,275.88 L332.28,279.24 L332.42,279.07 L332.57,280.39 L332.71,281.07 L332.86,281.88 L333.00,282.96 L333.14,284.00 L333.29,286.06 L333.43,286.92 L333.57,286.90 L333.71,287.74 L333.86,288.59 L334.00,289.23 L334.14,292.12 L334.29,292.34 L334.43,292.95 L334.57,293.52 L334.71,294.14 L334.86,296.57 L335.00,296.90 L335.33,296.81 L335.67,298.92 L336.00,298.69 L336.09,300.39 L336.18,300.41 L336.27,301.75 L336.36,303.30 L336.45,304.26 L336.55,305.61 L336.64,305.50 L336.73,307.94 L336.82,308.80 L336.91,308.99 L337.00,310.11 L337.13,308.54 L337.26,307.91 L337.39,306.21 L337.52,306.05 L337.65,305.12 L337.78,304.82 L337.91,303.58 L338.04,302.50 L338.17,300.78 L338.30,299.94 L338.46,300.76 L338.61,302.07 L338.77,301.71 L338.92,304.34 L339.08,303.88 L339.23,305.49 L339.39,306.78 L339.54,307.42 L339.70,309.10 L339.81,307.66 L339.91,307.67 L340.02,306.45 L340.12,304.46 L340.23,304.02 L340.33,303.59 L340.44,301.61 L340.54,300.88 L340.65,299.50 L340.75,298.89 L340.86,297.65 L340.96,296.94 L341.07,296.53 L341.17,295.80 L341.28,294.02 L341.38,293.08 L341.49,292.51 L341.59,290.80 L341.70,289.73 L341.81,291.71 L341.92,291.41 L342.02,293.59 L342.13,293.39 L342.24,296.15 L342.35,295.35 L342.46,297.53 L342.57,298.93 L342.68,298.41 L342.78,300.91 L342.89,300.49 L343.00,301.57 L343.20,301.45 L343.40,300.44 L343.60,298.87 L343.80,297.36 L343.86,298.93 L343.92,299.74 L343.98,300.65 L344.05,301.67 L344.11,301.72 L344.17,303.43 L344.23,305.81 L344.29,306.62 L344.35,306.44 L344.42,307.19 L344.48,308.81 L344.54,310.17 L344.60,310.67 L344.74,308.85 L344.88,308.70 L345.02,307.73 L345.16,307.57 L345.30,306.48 L345.44,305.12 L345.58,304.59 L345.72,302.66 L345.86,302.90 L346.00,300.89 L346.24,302.15 L346.49,303.38 L346.73,303.12 L346.97,304.16 L347.21,304.39 L347.46,306.50 L347.70,307.29 L347.84,306.12 L347.98,305.64 L348.12,303.06 L348.27,303.35 L348.41,302.44 L348.55,301.24 L348.69,300.91 L348.83,300.52 L348.97,298.17 L349.12,296.88 L349.26,296.10 L349.40,295.52 L349.54,296.81 L349.67,296.84 L349.81,298.94 L349.95,298.61 L350.09,300.70 L350.23,301.39 L350.36,302.35 L350.50,303.53 L350.68,301.84 L350.85,300.90 L351.02,300.30 L351.20,299.22 L351.26,299.22 L351.32,301.24 L351.39,301.66 L351.45,303.53 L351.51,305.01 L351.57,305.26 L351.64,306.20 L351.70,307.34 L352.06,306.32 L352.42,309.68 L352.78,310.48 L353.14,311.17 L353.50,311.90 L353.75,312.56 L354.00,313.89 L354.25,315.73 L354.50,315.98 L354.74,317.80 L354.98,316.48 L355.22,318.73 L355.46,320.16 L355.70,321.00 L355.86,319.04 L356.02,318.62 L356.19,318.73 L356.35,316.25 L356.51,315.42 L356.68,314.36 L356.84,313.67 L357.00,313.15 L357.33,314.37 L357.67,313.74 L358.00,316.36 L358.19,314.70 L358.38,313.76 L358.57,314.16 L358.76,312.17 L358.94,310.53 L359.13,309.95 L359.32,308.95 L359.51,307.83 L359.70,307.42 L359.87,309.01 L360.03,309.68 L360.20,309.62 L360.37,313.10 L360.53,311.83 L360.70,313.47 L360.87,314.40 L361.03,315.81 L361.20,316.16 L361.37,317.60 L361.53,319.54 L361.70,319.32 L362.13,319.56 L362.57,321.41 L363.00,321.64 L363.43,322.87 L363.87,324.17 L364.30,325.08 L364.47,323.84 L364.64,323.48 L364.81,321.89 L364.98,320.25 L365.15,320.51 L365.32,318.79 L365.49,318.70 L365.66,316.62 L365.83,316.34 L366.00,315.07 L366.25,312.37 L366.50,312.09 L366.75,311.32 L367.00,311.86 L367.25,308.84 L367.50,309.23 L367.70,310.66 L367.90,311.30 L368.10,312.40 L368.30,312.70 L368.50,314.00 L368.74,313.14 L368.98,312.26 L369.22,311.43 L369.46,309.87 L369.70,308.83 L369.85,309.66 L370.00,311.24 L370.15,311.02 L370.30,312.70 L370.38,311.76 L370.46,310.67 L370.53,309.84 L370.61,307.42 L370.69,307.80 L370.77,306.85 L370.84,306.47 L370.92,303.81 L371.00,303.82 L371.08,303.29 L371.16,302.30 L371.23,301.73 L371.31,300.65 L371.39,298.35 L371.47,298.39 L371.54,296.79 L371.62,295.50 L371.70,295.38 L371.96,295.56 L372.21,296.38 L372.47,297.64 L372.72,298.32 L372.98,300.48 L373.23,301.04 L373.49,302.66 L373.74,302.99 L374.00,303.54 L374.07,303.35 L374.15,301.32 L374.22,300.45 L374.30,299.64 L374.37,298.77 L374.45,298.50 L374.52,296.39 L374.59,296.00 L374.67,294.77 L374.74,293.01 L374.82,292.12 L374.89,291.68 L374.96,291.08 L375.04,290.04 L375.11,289.15 L375.19,287.89 L375.26,286.58 L375.34,286.15 L375.41,284.23 L375.48,283.02 L375.56,282.69 L375.63,280.97 L375.71,280.58 L375.78,279.44 L375.85,278.57 L375.93,277.92 L376.00,276.43 L376.08,275.69 L376.15,273.83 L376.23,274.09 L376.30,272.76 L376.87,272.51 L377.43,268.91 L378.00,270.22 L378.11,271.63 L378.22,270.76 L378.32,273.14 L378.43,274.41 L378.54,275.38 L378.65,275.26 L378.75,277.39 L378.86,278.29 L378.97,278.50 L379.08,280.61 L379.18,281.04 L379.29,282.05 L379.40,282.88 L379.72,282.38 L380.03,281.07 L380.35,280.80 L380.67,279.32 L380.98,277.56 L381.30,276.94 L381.38,278.60 L381.45,278.72 L381.53,280.20 L381.61,281.27 L381.68,281.79 L381.76,281.36 L381.84,283.96 L381.91,285.00 L381.99,285.93 L382.06,286.33 L382.14,288.59 L382.22,288.70 L382.29,289.37 L382.37,290.29 L382.45,291.96 L382.52,292.03 L382.60,293.45 L382.88,294.04 L383.17,292.58 L383.45,291.41 L383.73,290.62 L384.02,289.10 L384.30,287.24 L384.41,289.50 L384.52,290.54 L384.62,291.08 L384.73,290.54 L384.84,293.61 L384.95,294.71 L385.05,294.55 L385.16,295.97 L385.27,297.40 L385.38,297.88 L385.48,299.64 L385.59,300.03 L385.70,301.17 L385.98,301.97 L386.27,301.87 L386.55,303.11 L386.83,306.71 L387.12,305.76 L387.40,306.84 L387.63,306.27 L387.86,305.68 L388.09,304.00 L388.32,302.32 L388.55,301.76 L388.78,299.57 L389.01,299.73 L389.24,299.48 L389.47,296.55 L389.70,297.05 L389.91,296.60 L390.12,295.99 L390.34,293.58 L390.55,292.82 L390.76,291.08 L390.97,290.70 L391.19,290.79 L391.40,290.05 L391.60,289.68 L391.80,292.28 L392.00,292.59 L392.20,292.93 L392.40,295.62 L392.60,293.49 L392.80,296.02 L393.00,297.06 L393.18,297.37 L393.36,296.16 L393.53,295.46 L393.71,293.09 L393.89,292.64 L394.07,291.89 L394.24,290.34 L394.42,289.24 L394.60,287.95 L394.71,288.72 L394.81,289.17 L394.92,292.20 L395.03,291.64 L395.13,291.57 L395.24,294.06 L395.34,294.85 L395.45,295.96 L395.56,297.98 L395.66,297.75 L395.77,298.63 L395.88,299.31 L395.98,300.74 L396.09,301.47 L396.19,302.85 L396.30,304.47 L396.46,302.98 L396.61,301.23 L396.77,302.01 L396.92,300.38 L397.08,299.38 L397.23,298.35 L397.39,297.46 L397.54,296.40 L397.70,295.36 L397.86,296.64 L398.03,297.86 L398.19,297.68 L398.36,299.00 L398.52,299.54 L398.69,301.60 L398.85,302.52 L399.01,302.71 L399.18,304.36 L399.34,306.63 L399.51,306.76 L399.67,306.31 L399.84,307.94 L400.00,309.15 L400.22,308.01 L400.44,307.31 L400.67,306.84 L400.89,305.34 L401.11,303.47 L401.33,303.65 L401.56,302.17 L401.78,301.34 L402.00,300.15 L402.25,298.43 L402.50,297.54 L402.75,297.14 L403.00,295.70 L403.25,293.63 L403.50,295.21 L403.75,292.70 L404.00,292.31 L404.25,293.83 L404.50,292.85 L404.75,296.31 L405.00,295.89 L405.25,297.81 L405.50,298.04 L405.75,299.52 L406.00,300.33 L406.77,299.63 L407.53,297.24 L408.30,297.74 L408.53,299.24 L408.76,301.15 L408.99,300.86 L409.22,302.52 L409.45,303.25 L409.68,304.43 L409.91,305.72 L410.14,305.12 L410.37,307.20 L410.60,307.96 L410.82,306.81 L411.04,305.47 L411.25,304.51 L411.47,303.35 L411.69,302.30 L411.91,303.60 L412.13,302.09 L412.35,300.01 L412.56,299.48 L412.78,297.37 L413.00,296.28 L413.29,296.75 L413.57,299.01 L413.86,300.82 L414.14,300.80 L414.43,301.13 L414.71,302.59 L415.00,303.44 L415.90,301.66 L416.80,302.93 L417.70,302.79 L417.93,301.48 L418.15,300.43 L418.38,299.40 L418.60,299.06 L418.83,300.90 L419.07,300.87 L419.30,303.43 L419.53,301.97 L419.77,304.17 L420.00,304.71 L420.38,303.89 L420.77,303.07 L421.15,302.38 L421.53,301.77 L421.92,299.62 L422.30,298.66 L422.46,299.85 L422.61,301.12 L422.77,301.46 L422.92,303.42 L423.08,304.88 L423.23,303.92 L423.39,305.99 L423.54,307.36 L423.70,307.23 L423.96,308.76 L424.22,309.42 L424.48,309.60 L424.74,312.24 L425.00,312.49 L425.26,312.98 L425.52,314.48 L425.78,315.54 L426.04,316.54 L426.30,317.14 L426.70,318.26 L427.10,318.25 L427.50,319.73 L427.90,321.08 L428.30,321.30 L428.97,322.90 L429.63,320.17 L430.30,319.37 L431.10,318.95 L431.90,321.44 L432.70,322.01 L432.95,320.71 L433.21,319.88 L433.46,318.65 L433.72,317.80 L433.97,317.26 L434.23,315.99 L434.48,315.86 L434.74,314.42 L434.99,313.65 L435.25,312.89 L435.50,312.02 L436.04,311.35 L436.58,310.27 L437.12,309.18 L437.66,307.89 L438.20,307.60 L438.42,309.17 L438.63,309.94 L438.85,310.61 L439.07,311.09 L439.28,312.02 L439.50,314.08 L440.35,315.00 L441.20,313.68 L441.69,313.40 L442.17,315.07 L442.66,316.23 L443.14,316.29 L443.63,318.03 L444.11,318.51 L444.60,319.27 L444.94,317.79 L445.29,318.16 L445.63,316.94 L445.97,315.22 L446.31,314.21 L446.66,314.50 L447.00,313.15 L447.19,311.81 L447.38,311.97 L447.57,309.82 L447.77,308.35 L447.96,308.67 L448.15,306.88 L448.34,306.21 L448.53,305.02 L448.73,303.37 L448.92,302.25 L449.11,301.88 L449.30,301.36 L449.40,299.40 L449.50,299.90 L449.60,298.21 L449.70,296.40 L449.80,296.29 L449.90,295.51 L450.00,293.60 L450.10,291.84 L450.20,292.45 L450.30,290.53 L450.40,290.56 L450.50,288.06 L450.60,288.23 L450.70,286.82 L450.80,285.40 L450.90,285.24 L451.00,284.54 L451.10,283.08 L451.20,281.69 L451.30,281.56 L451.50,281.26 L451.70,283.76 L451.90,284.68 L452.10,286.43 L452.30,286.84 L452.50,287.44 L452.70,288.33 L452.90,289.12 L453.10,289.17 L453.30,291.39 L453.44,292.34 L453.59,292.82 L453.73,293.26 L453.87,295.95 L454.01,296.34 L454.16,296.25 L454.30,298.17 L454.51,298.22 L454.73,295.99 L454.94,295.26 L455.15,293.73 L455.36,292.59 L455.57,292.71 L455.79,293.03 L456.00,290.03 L456.15,290.92 L456.29,292.51 L456.44,292.80 L456.58,294.47 L456.73,295.53 L456.87,295.35 L457.02,296.32 L457.16,297.95 L457.31,299.52 L457.45,300.17 L457.60,301.31 L457.78,299.17 L457.95,299.40 L458.12,297.73 L458.30,297.23 L458.48,296.41 L458.65,294.63 L458.82,294.14 L459.00,292.58 L459.18,292.55 L459.35,290.86 L459.52,290.13 L459.70,289.56 L459.89,290.00 L460.07,292.11 L460.26,291.87 L460.44,293.77 L460.63,294.33 L460.81,294.40 L461.00,295.94 L461.15,294.46 L461.31,293.77 L461.46,292.83 L461.62,293.18 L461.77,290.73 L461.93,291.02 L462.08,289.29 L462.24,287.14 L462.39,285.48 L462.55,286.45 L462.70,284.47 L462.74,286.47 L462.78,287.67 L462.82,288.25 L462.86,288.87 L462.90,289.84 L462.94,291.17 L462.98,291.81 L463.02,292.66 L463.06,293.77 L463.10,295.74 L463.14,295.61 L463.18,297.24 L463.22,297.28 L463.26,298.56 L463.30,299.15 L463.34,300.88 L463.38,302.42 L463.42,303.19 L463.46,303.70 L463.50,305.15 L463.52,305.79 L463.55,307.22 L463.57,308.16 L463.60,309.32 L463.62,308.53 L463.65,310.23 L463.68,312.46 L463.70,312.94 L463.73,315.31 L463.75,314.86 L463.77,315.68 L463.80,317.86 L463.82,318.32 L463.85,320.08 L463.88,320.29 L463.90,320.88 L463.93,322.41 L463.95,322.56 L463.97,323.75 L464.00,324.69 L464.02,325.88 L464.05,327.43 L464.07,327.74 L464.10,329.18 L464.12,329.73 L464.15,331.48 L464.17,330.51 L464.20,332.89 L464.22,334.09 L464.25,334.42 L464.27,336.54 L464.30,337.11 L464.32,338.68 L464.35,339.50 L464.38,340.33 L464.40,340.97 L464.43,339.43 L464.46,338.88 L464.49,337.76 L464.51,337.13 L464.54,335.75 L464.57,336.63 L464.60,333.14 L464.63,333.63 L464.66,331.75 L464.69,330.87 L464.71,330.50 L464.74,329.00 L464.77,327.33 L464.80,327.23 L464.83,325.89 L464.86,323.85 L464.89,324.11 L464.91,322.41 L464.94,321.58 L464.97,321.27 L465.00,320.17 L465.03,318.83 L465.06,319.24 L465.09,317.24 L465.11,315.65 L465.14,315.14 L465.17,313.93 L465.20,311.71 L465.23,311.08 L465.26,310.18 L465.29,311.22 L465.31,308.89 L465.34,307.84 L465.37,306.66 L465.40,306.24 L466.50,305.01 L466.59,306.99 L466.68,307.39 L466.77,308.86 L466.87,308.76 L466.96,310.01 L467.05,310.49 L467.14,311.61 L467.23,311.65 L467.33,313.28 L467.42,314.03 L467.51,315.16 L467.60,316.78 L467.64,315.67 L467.67,315.24 L467.71,314.05 L467.74,313.10 L467.78,312.17 L467.81,310.24 L467.85,310.09 L467.88,308.44 L467.92,307.33 L467.95,307.38 L467.99,306.98 L468.03,304.10 L468.06,304.76 L468.10,303.23 L468.13,301.23 L468.17,300.93 L468.20,300.00 L468.24,299.02 L468.27,297.59 L468.31,296.02 L468.35,295.86 L468.38,295.39 L468.42,294.36 L468.45,293.30 L468.49,292.60 L468.52,290.29 L468.56,289.91 L468.59,289.17 L468.63,288.61 L468.66,287.08 L468.70,286.13 L468.90,287.09 L469.10,289.38 L469.30,287.57 L469.50,289.98 L469.70,291.65 L470.13,292.17 L470.57,291.71 L471.00,294.04 L471.04,292.10 L471.09,291.57 L471.13,291.14 L471.18,291.09 L471.22,289.30 L471.26,288.43 L471.31,287.66 L471.35,286.13 L471.39,284.44 L471.44,283.94 L471.48,283.22 L471.52,281.82 L471.57,280.56 L471.61,279.76 L471.66,278.01 L471.70,277.73 L471.74,276.94 L471.78,275.76 L471.82,275.03 L471.86,274.95 L471.90,273.20 L471.94,271.98 L471.98,270.20 L472.02,269.26 L472.06,269.26 L472.10,267.40 L472.14,267.30 L472.18,265.26 L472.22,265.09 L472.26,263.95 L472.30,263.70 L472.34,261.73 L472.38,260.74 L472.42,260.17 L472.46,259.04 L472.50,259.20 L472.54,256.82 L472.58,255.62 L472.62,254.77 L472.66,254.34 L472.70,253.07 L472.72,252.50 L472.73,250.00 L472.75,251.80 L472.76,250.34 L472.78,247.98 L472.79,246.11 L472.81,246.11 L472.83,245.31 L472.84,242.34 L472.86,243.01 L472.87,240.90 L472.89,241.34 L472.91,241.04 L472.92,239.78 L472.94,236.86 L472.95,238.05 L472.97,236.69 L472.98,234.72 L473.00,234.38 L473.02,234.16 L473.03,231.74 L473.05,230.99 L473.06,229.57 L473.08,229.90 L473.09,226.32 L473.11,228.11 L473.13,225.24 L473.14,225.73 L473.16,222.72 L473.17,222.26 L473.19,221.53 L473.21,221.66 L473.22,218.71 L473.24,219.48 L473.25,217.49 L473.27,218.00 L473.28,215.75 L473.30,215.16 L473.32,213.89 L473.34,214.52 L473.36,211.80 L473.38,211.10 L473.39,211.78 L473.41,209.25 L473.43,208.78 L473.45,206.64 L473.47,206.45 L473.49,203.43 L473.51,204.43 L473.53,202.83 L473.54,201.15 L473.56,200.25 L473.58,201.43 L473.60,199.64 L473.94,199.00 L474.28,202.97 L474.62,201.56 L474.96,202.76 L475.30,204.09 L475.33,204.05 L475.36,204.66 L475.40,206.38 L475.43,208.97 L475.46,209.78 L475.49,208.70 L475.52,211.98 L475.55,212.03 L475.59,213.41 L475.62,214.04 L475.65,215.33 L475.68,215.19 L475.71,216.27 L475.75,217.44 L475.78,218.71 L475.81,220.49 L475.84,220.03 L475.87,223.26 L475.90,222.50 L475.94,223.54 L475.97,225.55 L476.00,226.34 L476.03,226.74 L476.06,227.17 L476.10,228.22 L476.13,228.76 L476.16,231.88 L476.19,232.83 L476.22,234.43 L476.25,234.38 L476.29,235.25 L476.32,236.58 L476.35,237.72 L476.38,237.80 L476.41,239.27 L476.45,241.62 L476.48,239.73 L476.51,240.95 L476.54,242.28 L476.57,244.56 L476.60,245.88 L476.64,245.75 L476.67,247.49 L476.70,247.99 L476.77,247.22 L476.84,245.60 L476.92,244.98 L476.99,244.00 L477.06,243.84 L477.13,243.67 L477.21,239.64 L477.28,240.40 L477.35,239.00 L477.42,238.73 L477.49,237.81 L477.57,236.60 L477.64,235.62 L477.71,233.27 L477.78,231.69 L477.86,233.29 L477.93,231.94 L478.00,229.70 L478.67,230.77 L479.33,229.41 L480.00,226.90 L480.03,229.70 L480.06,229.24 L480.09,231.90 L480.12,231.48 L480.15,232.43 L480.18,232.82 L480.21,234.83 L480.24,236.77 L480.27,236.49 L480.30,236.59 L480.33,240.62 L480.37,241.39 L480.40,241.52 L480.43,241.60 L480.46,242.10 L480.49,242.78 L480.52,245.41 L480.55,246.96 L480.58,246.22 L480.61,248.00 L480.64,248.80 L480.67,249.81 L480.70,251.15 L480.75,251.53 L480.80,248.53 L480.85,248.62 L480.90,247.80 L480.95,245.79 L481.00,244.89 L481.05,243.00 L481.10,243.80 L481.15,241.60 L481.20,240.51 L481.25,240.05 L481.30,238.35 L481.35,237.21 L481.40,236.77 L481.45,237.13 L481.50,234.84 L481.55,234.40 L481.60,231.87 L481.65,230.50 L481.70,232.41 L481.75,229.69 L481.80,227.80 L481.85,227.92 L481.90,227.48 L481.95,224.64 L482.00,224.30 L482.05,224.21 L482.10,222.27 L482.15,222.63 L482.20,221.77 L482.25,220.35 L482.30,218.66 L482.35,217.96 L482.40,216.49 L482.45,215.89 L482.50,215.26 L482.55,213.76 L482.60,213.79 L482.65,214.13 L482.70,210.82 L482.86,210.32 L483.03,209.76 L483.19,208.65 L483.36,206.94 L483.52,205.77 L483.69,206.07 L483.85,204.78 L484.01,203.72 L484.18,201.63 L484.34,201.90 L484.51,201.08 L484.67,199.27 L484.84,199.02 L485.00,198.26 L485.17,196.82 L485.34,199.93 L485.51,199.34 L485.68,200.12 L485.85,202.05 L486.02,203.67 L486.19,204.19 L486.36,204.10 L486.53,204.82 L486.70,206.81 L486.74,208.01 L486.78,208.31 L486.82,208.76 L486.86,212.44 L486.90,211.31 L486.94,212.87 L486.98,213.55 L487.02,214.52 L487.06,216.03 L487.10,216.76 L487.14,218.50 L487.18,218.05 L487.22,218.81 L487.26,222.56 L487.30,221.98 L487.36,221.62 L487.43,220.95 L487.49,219.45 L487.55,218.03 L487.61,215.74 L487.68,214.70 L487.74,215.80 L487.80,214.22 L487.84,215.46 L487.88,214.65 L487.91,215.27 L487.95,217.15 L487.99,218.05 L488.02,220.13 L488.06,220.18 L488.10,223.26 L488.14,222.50 L488.18,223.55 L488.21,225.68 L488.25,226.26 L488.29,226.29 L488.32,228.64 L488.36,230.50 L488.40,229.04 L488.44,230.81 L488.48,231.16 L488.51,231.50 L488.55,234.48 L488.59,235.54 L488.62,236.75 L488.66,237.33 L488.70,237.39 L488.74,236.98 L488.77,235.49 L488.81,234.09 L488.85,233.15 L488.89,233.59 L488.93,231.77 L488.96,232.53 L489.00,230.37 L489.04,227.50 L489.07,228.70 L489.11,227.99 L489.15,226.02 L489.19,224.04 L489.23,225.41 L489.26,221.95 L489.30,221.97 L489.42,221.46 L489.53,222.99 L489.65,223.64 L489.77,226.87 L489.88,227.94 L490.00,227.87 L490.06,225.93 L490.12,225.95 L490.18,225.30 L490.24,222.78 L490.30,222.07 L490.35,221.92 L490.41,221.57 L490.47,220.06 L490.53,219.36 L490.59,216.98 L490.65,214.97 L490.71,216.26 L490.77,214.25 L490.83,213.90 L490.89,212.69 L490.95,212.40 L491.00,210.36 L491.06,211.20 L491.12,209.03 L491.18,208.44 L491.24,207.53 L491.30,206.35 L492.20,207.10 L493.10,204.40 L494.00,207.13 L494.09,210.03 L494.17,209.83 L494.26,210.87 L494.35,211.76 L494.43,211.80 L494.52,212.74 L494.61,213.73 L494.69,216.19 L494.78,216.50 L494.87,218.63 L494.95,218.54 L495.04,220.64 L495.13,220.44 L495.21,220.07 L495.30,222.56 L495.45,223.28 L495.61,224.97 L495.76,225.17 L495.92,225.73 L496.07,227.14 L496.22,227.10 L496.38,228.04 L496.53,229.29 L496.68,230.58 L496.84,230.92 L496.99,232.92 L497.15,234.24 L497.30,235.64 L497.45,237.45 L497.61,236.96 L497.76,238.69 L497.92,238.83 L498.07,240.30 L498.22,240.97 L498.38,241.58 L498.53,243.06 L498.68,242.86 L498.84,245.34 L498.99,245.78 L499.15,246.17 L499.30,247.89 L499.42,249.42 L499.53,249.49 L499.65,251.36 L499.77,252.43 L499.88,254.16 L500.00,253.19 L500.12,254.92 L500.23,256.38 L500.35,258.10 L500.47,258.19 L500.58,259.55 L500.70,259.57 L500.76,258.58 L500.83,259.21 L500.89,256.79 L500.96,257.58 L501.02,254.46 L501.09,253.79 L501.15,251.82 L501.22,252.47 L501.28,251.20 L501.35,251.51 L501.42,249.12 L501.48,247.81 L501.55,245.94 L501.61,245.94 L501.68,245.72 L501.74,244.56 L501.81,243.94 L501.87,242.66 L501.94,240.96 L502.00,240.19 L502.14,239.19 L502.29,237.06 L502.43,238.52 L502.58,236.52 L502.72,234.44 L502.87,234.64 L503.01,233.62 L503.16,233.24 L503.30,231.96 L503.38,230.09 L503.45,233.94 L503.53,235.71 L503.60,234.76 L503.68,235.05 L503.75,237.72 L503.82,238.76 L503.90,239.77 L503.98,239.64 L504.05,241.14 L504.12,242.65 L504.20,244.07 L504.27,246.18 L504.35,245.72 L504.43,246.04 L504.50,245.71 L504.57,249.31 L504.65,249.40 L504.72,250.42 L504.80,250.76 L504.88,253.05 L504.95,252.17 L505.02,254.58 L505.10,255.59 L505.17,256.72 L505.25,258.46 L505.32,258.43 L505.40,259.53 L505.48,259.15 L505.57,256.40 L505.65,256.35 L505.73,255.64 L505.81,255.32 L505.90,253.03 L505.98,253.25 L506.06,251.96 L506.14,249.58 L506.23,248.60 L506.31,247.65 L506.39,247.87 L506.47,246.94 L506.56,246.36 L506.64,245.46 L506.72,243.42 L506.80,243.69 L506.89,242.53 L506.97,241.28 L507.05,240.31 L507.13,237.95 L507.22,238.26 L507.30,236.68 L507.41,237.03 L507.51,238.66 L507.62,240.02 L507.73,240.83 L507.83,241.59 L507.94,242.04 L508.04,243.93 L508.15,244.18 L508.26,244.64 L508.36,246.76 L508.47,248.77 L508.57,248.32 L508.68,248.79 L508.79,251.61 L508.89,252.82 L509.00,252.41 L509.06,251.36 L509.11,250.69 L509.17,251.77 L509.23,248.66 L509.29,248.33 L509.34,246.92 L509.40,244.21 L509.46,243.77 L509.51,242.68 L509.57,242.98 L509.63,241.74 L509.69,242.06 L509.74,239.48 L509.80,238.94 L509.86,237.77 L509.91,236.84 L509.97,237.57 L510.03,234.98 L510.09,234.94 L510.14,233.82 L510.20,231.32 L510.26,231.36 L510.31,229.52 L510.37,228.93 L510.43,227.98 L510.49,226.89 L510.54,225.50 L510.60,226.17 L510.66,223.70 L510.71,223.50 L510.77,223.32 L510.83,221.47 L510.89,220.82 L510.94,220.14 L511.00,218.36 L511.38,220.56 L511.77,218.70 L512.15,222.77 L512.53,222.03 L512.92,221.43 L513.30,223.77 L513.34,223.86 L513.39,225.98 L513.43,225.79 L513.47,227.19 L513.51,229.24 L513.56,230.13 L513.60,230.36 L513.64,231.81 L513.69,232.92 L513.73,234.06 L513.77,234.99 L513.81,235.83 L513.86,237.69 L513.90,236.74 L513.94,238.61 L513.99,240.10 L514.03,240.69 L514.07,241.57 L514.11,242.66 L514.16,244.16 L514.20,245.38 L514.24,245.86 L514.28,246.80 L514.31,248.27 L514.35,248.82 L514.39,248.54 L514.43,251.20 L514.47,251.72 L514.50,252.57 L514.54,254.47 L514.58,255.03 L514.62,255.58 L514.66,255.39 L514.70,256.73 L514.73,259.01 L514.77,259.91 L514.81,261.32 L514.85,262.16 L514.89,262.65 L514.92,263.09 L514.96,264.21 L515.00,265.96 L515.22,264.14 L515.44,264.57 L515.67,262.00 L515.89,260.65 L516.11,260.85 L516.33,258.66 L516.56,260.24 L516.78,257.24 L517.00,256.98 L517.06,257.82 L517.11,258.40 L517.17,258.70 L517.23,259.64 L517.28,262.63 L517.34,263.74 L517.40,265.57 L517.45,263.94 L517.51,266.40 L517.57,266.99 L517.62,268.60 L517.68,268.63 L517.74,270.51 L517.79,271.63 L517.85,272.43 L517.91,274.02 L517.96,273.88 L518.02,276.08 L518.08,275.51 L518.13,278.16 L518.19,276.10 L518.25,279.01 L518.30,279.45 L518.36,281.00 L518.42,282.70 L518.47,283.49 L518.53,284.06 L518.59,286.15 L518.64,285.01 L518.70,286.78 L518.78,287.02 L518.85,285.22 L518.93,282.59 L519.01,283.23 L519.08,281.19 L519.16,282.01 L519.24,280.79 L519.31,278.62 L519.39,278.89 L519.46,276.42 L519.54,276.64 L519.62,275.40 L519.69,273.91 L519.77,272.00 L519.85,271.80 L519.92,269.38 L520.00,269.84 L520.10,269.69 L520.19,272.86 L520.29,272.32 L520.38,272.29 L520.48,275.41 L520.57,276.26 L520.67,276.65 L520.77,279.47 L520.86,279.53 L520.96,280.05 L521.05,280.56 L521.15,279.98 L521.24,283.33 L521.34,284.65 L521.43,284.60 L521.53,285.05 L521.63,286.97 L521.72,286.88 L521.82,289.00 L521.91,290.51 L522.01,292.00 L522.10,292.17 L522.20,293.05 L522.26,292.49 L522.31,291.92 L522.37,289.79 L522.43,288.18 L522.48,287.47 L522.54,286.16 L522.60,285.40 L522.65,284.92 L522.71,284.23 L522.77,283.11 L522.82,282.05 L522.88,280.76 L522.93,280.29 L522.99,279.61 L523.05,278.52 L523.10,278.04 L523.16,275.80 L523.22,274.82 L523.27,275.19 L523.33,273.14 L523.39,272.29 L523.44,270.76 L523.50,270.28 L523.58,270.71 L523.66,271.29 L523.74,272.96 L523.82,273.69 L523.89,275.58 L523.97,275.74 L524.05,277.09 L524.13,277.85 L524.21,279.23 L524.29,279.57 L524.37,281.76 L524.45,281.03 L524.53,282.74 L524.61,283.52 L524.68,285.44 L524.76,286.03 L524.84,287.33 L524.92,287.78 L525.00,288.81 L525.07,287.25 L525.14,286.78 L525.21,285.64 L525.29,285.19 L525.36,284.24 L525.43,283.66 L525.50,281.93 L525.57,280.49 L525.64,279.27 L525.71,279.04 L525.79,278.25 L525.86,278.35 L525.93,276.13 L526.00,276.23 L526.07,275.31 L526.14,272.26 L526.21,272.85 L526.29,271.81 L526.36,270.96 L526.43,268.99 L526.50,268.27 L526.60,266.65 L526.70,265.95 L526.80,265.01 L526.90,265.30 L527.00,262.84 L527.10,262.70 L527.20,261.05 L527.30,259.48 L527.40,259.18 L527.50,258.49 L527.60,256.47 L527.70,256.19 L527.77,254.47 L527.83,253.34 L527.90,253.17 L527.97,251.82 L528.03,250.26 L528.10,248.76 L528.17,249.02 L528.23,248.19 L528.30,246.65 L528.37,246.14 L528.43,243.82 L528.50,244.12 L528.58,245.32 L528.67,246.21 L528.75,246.53 L528.83,248.06 L528.92,249.10 L529.00,250.33 L529.04,249.25 L529.08,248.28 L529.12,246.57 L529.17,246.83 L529.21,246.11 L529.25,243.87 L529.29,243.79 L529.33,242.57 L529.38,241.34 L529.42,239.41 L529.46,240.83 L529.50,237.91 L529.63,239.66 L529.77,240.04 L529.90,242.15 L530.03,241.83 L530.17,243.11 L530.30,244.19 L530.42,243.42 L530.55,241.72 L530.67,241.72 L530.80,240.56 L530.92,240.09 L531.05,237.97 L531.17,237.40 L531.30,236.38 L531.37,236.79 L531.44,238.60 L531.51,239.67 L531.58,241.41 L531.65,241.00 L531.72,242.50 L531.79,244.03 L531.86,244.01 L531.93,245.10 L532.00,246.04 L532.10,244.47 L532.20,243.23 L532.30,243.87 L532.40,242.13 L532.50,240.98 L532.55,241.04 L532.61,243.09 L532.66,244.90 L532.71,244.12 L532.77,245.32 L532.82,247.85 L532.87,249.09 L532.93,250.18 L532.98,249.58 L533.03,251.45 L533.09,251.44 L533.14,253.39 L533.19,253.73 L533.25,255.15 L533.30,256.40 L533.38,255.25 L533.47,253.82 L533.55,253.04 L533.63,252.20 L533.72,250.61 L533.80,250.06 L533.84,251.43 L533.87,253.12 L533.91,251.39 L533.95,253.02 L533.98,253.97 L534.02,256.51 L534.05,258.64 L534.09,257.96 L534.13,258.88 L534.16,260.60 L534.20,258.98 L534.24,261.60 L534.27,260.45 L534.31,263.79 L534.35,264.29 L534.38,265.29 L534.42,266.86 L534.45,267.18 L534.49,269.35 L534.53,269.54 L534.56,270.79 L534.60,272.21 L534.64,270.21 L534.68,270.21 L534.72,268.00 L534.76,268.50 L534.81,267.33 L534.85,265.78 L534.89,265.42 L534.93,264.89 L534.97,263.76 L535.01,261.80 L535.05,260.78 L535.09,260.66 L535.14,257.81 L535.18,257.47 L535.22,257.30 L535.26,256.39 L535.30,255.55 L535.43,257.31 L535.57,257.24 L535.70,258.13 L535.73,256.03 L535.77,255.86 L535.80,255.19 L535.83,253.83 L535.87,253.04 L535.90,252.45 L535.93,250.29 L535.97,249.57 L536.00,247.66 L536.03,248.86 L536.07,246.20 L536.10,244.71 L536.13,245.59 L536.17,243.84 L536.20,243.74 L536.23,241.72 L536.27,242.64 L536.30,240.22 L536.36,239.12 L536.42,238.09 L536.49,236.84 L536.55,236.63 L536.61,236.57 L536.67,233.67 L536.74,232.14 L536.80,232.19 L536.86,231.85 L536.92,228.81 L536.99,228.45 L537.05,227.20 L537.11,227.45 L537.17,226.41 L537.24,224.41 L537.30,223.63 L537.38,225.55 L537.45,224.34 L537.52,227.52 L537.60,227.88 L537.67,230.54 L537.75,230.79 L537.82,230.54 L537.90,231.78 L537.98,232.78 L538.05,233.43 L538.12,235.06 L538.20,236.75 L538.27,235.82 L538.35,237.82 L538.42,240.16 L538.50,240.23 L538.57,238.37 L538.64,237.37 L538.71,236.33 L538.79,234.75 L538.86,235.90 L538.93,234.05 L539.00,232.78 L539.08,232.87 L539.15,234.70 L539.23,235.60 L539.31,238.34 L539.38,237.64 L539.46,239.09 L539.54,240.83 L539.62,241.51 L539.69,241.86 L539.77,241.33 L539.85,245.07 L539.92,245.45 L540.00,245.87 L540.06,244.93 L540.12,243.27 L540.19,242.31 L540.25,240.87 L540.31,241.38 L540.38,240.40 L540.44,239.13 L540.50,238.24 L540.57,239.38 L540.63,240.03 L540.70,240.22 L540.77,242.32 L540.83,243.74 L540.90,244.28 L540.97,245.71 L541.03,245.38 L541.10,245.96 L541.17,248.61 L541.23,248.20 L541.30,249.78 L541.37,250.42 L541.43,251.55 L541.50,252.42 L541.56,251.14 L541.62,249.25 L541.68,251.04 L541.75,248.81 L541.81,246.25 L541.87,246.05 L541.93,244.92 L541.99,244.25 L542.05,241.91 L542.12,243.32 L542.18,243.17 L542.24,240.77 L542.30,240.23 L542.38,241.46 L542.47,241.05 L542.55,243.93 L542.63,242.72 L542.72,244.56 L542.80,245.89 L542.84,245.95 L542.87,244.09 L542.91,242.91 L542.94,241.39 L542.98,241.07 L543.01,240.03 L543.05,239.56 L543.09,239.07 L543.12,237.57 L543.16,236.01 L543.19,234.88 L543.23,235.25 L543.26,233.16 L543.30,231.99 L543.47,234.43 L543.65,235.25 L543.83,235.45 L544.00,235.91 L544.17,236.50 L544.35,238.84 L544.53,238.65 L544.70,240.30 L544.85,238.39 L545.00,238.08 L545.15,237.32 L545.30,236.05 L545.65,235.46 L546.00,234.64 L546.06,234.60 L546.12,235.58 L546.19,237.29 L546.25,239.76 L546.31,239.25 L546.38,239.60 L546.44,240.78 L546.50,242.28 L546.56,244.11 L546.62,243.76 L546.69,245.58 L546.75,246.27 L546.81,246.83 L546.88,247.36 L546.94,248.92 L547.00,249.79 L547.07,249.40 L547.14,246.69 L547.21,247.84 L547.29,246.57 L547.36,245.44 L547.43,245.13 L547.50,243.18 L547.53,242.69 L547.57,245.00 L547.60,246.27 L547.64,246.40 L547.67,247.05 L547.71,249.19 L547.74,250.23 L547.78,250.51 L547.81,251.63 L547.85,252.41 L547.88,253.35 L547.92,254.70 L547.95,256.50 L547.99,255.53 L548.02,257.43 L548.06,259.81 L548.09,259.86 L548.13,260.72 L548.16,262.18 L548.20,261.85 L548.23,262.69 L548.27,263.35 L548.30,265.09 L548.34,264.71 L548.39,264.16 L548.43,262.30 L548.47,261.14 L548.52,260.94 L548.56,260.13 L548.61,258.90 L548.65,256.38 L548.69,256.39 L548.74,253.98 L548.78,255.02 L548.83,253.26 L548.87,252.43 L548.91,253.04 L548.96,251.94 L549.00,250.14 L549.10,251.20 L549.20,252.13 L549.30,252.57 L549.40,253.96 L549.50,256.40 L549.60,255.75 L549.66,254.52 L549.71,254.12 L549.77,253.65 L549.83,252.61 L549.88,250.29 L549.94,249.90 L549.99,248.80 L550.05,247.08 L550.11,247.06 L550.16,245.64 L550.22,245.69 L550.27,244.33 L550.33,242.41 L550.39,242.06 L550.44,240.73 L550.50,239.81 L550.60,240.63 L550.70,242.81 L550.80,242.69 L550.90,242.71 L551.00,244.77 L551.05,244.61 L551.11,244.62 L551.16,241.20 L551.21,240.73 L551.26,239.75 L551.32,237.93 L551.37,238.31 L551.42,236.96 L551.47,236.21 L551.53,236.73 L551.58,233.79 L551.63,233.62 L551.68,232.65 L551.74,230.50 L551.79,229.54 L551.84,230.22 L551.89,228.56 L551.95,227.11 L552.00,225.65 L552.07,227.70 L552.14,228.42 L552.21,230.73 L552.29,231.16 L552.36,231.63 L552.43,232.21 L552.50,233.05 L552.57,233.57 L552.64,235.24 L552.71,236.19 L552.79,237.50 L552.86,238.83 L552.93,239.24 L553.00,239.83 L553.10,239.62 L553.20,239.19 L553.30,236.36 L553.40,236.32 L553.50,235.17 L553.58,236.41 L553.65,237.39 L553.73,237.93 L553.81,238.92 L553.88,241.28 L553.96,242.32 L554.04,240.94 L554.12,241.09 L554.19,244.33 L554.27,244.49 L554.35,245.61 L554.42,245.81 L554.50,248.11 L554.60,246.96 L554.70,245.60 L554.80,245.68 L554.90,245.83 L555.00,243.45 L555.10,244.84 L555.20,244.61 L555.30,246.37 L555.40,246.81 L555.50,248.66 L555.60,249.18 L555.70,249.68 L555.80,251.08 L555.90,251.10 L556.00,253.17 L556.10,254.64 L556.20,254.39 L556.25,253.94 L556.31,251.35 L556.36,252.29 L556.41,251.28 L556.47,248.91 L556.52,249.99 L556.57,247.82 L556.63,245.48 L556.68,244.78 L556.73,245.49 L556.79,243.66 L556.84,243.73 L556.89,240.76 L556.95,240.89 L557.00,240.30 L557.08,240.49 L557.17,242.52 L557.25,242.73 L557.33,244.26 L557.42,245.24 L557.50,246.67 L557.54,244.08 L557.58,244.58 L557.62,243.99 L557.67,241.15 L557.71,241.06 L557.75,241.75 L557.79,239.80 L557.83,235.74 L557.88,236.82 L557.92,234.69 L557.96,235.23 L558.00,233.78 L558.33,232.53 L558.67,231.30 L559.00,231.10 L559.16,231.63 L559.32,232.29 L559.48,233.82 L559.64,235.32 L559.80,235.73 L559.89,235.86 L559.99,232.71 L560.08,233.32 L560.17,231.70 L560.27,232.23 L560.36,229.49 L560.46,228.48 L560.55,226.94 L560.64,228.58 L560.74,226.49 L560.83,224.13 L560.92,223.73 L561.02,222.23 L561.11,223.23 L561.21,221.34 L561.30,219.34 L561.35,219.17 L561.40,218.74 L561.44,217.00 L561.49,216.39 L561.54,214.91 L561.59,214.17 L561.64,213.18 L561.68,211.42 L561.73,211.29 L561.78,210.14 L561.83,208.97 L561.88,207.43 L561.92,206.15 L561.97,206.21 L562.02,205.69 L562.07,201.96 L562.12,202.55 L562.16,203.15 L562.21,201.78 L562.26,199.39 L562.31,200.16 L562.36,197.15 L562.40,196.32 L562.45,197.67 L562.50,194.85 L562.52,193.84 L562.55,191.61 L562.57,191.19 L562.59,190.07 L562.61,189.99 L562.64,187.53 L562.66,189.09 L562.68,186.87 L562.70,185.67 L562.73,184.67 L562.75,184.91 L562.77,184.64 L562.80,181.93 L562.82,182.76 L562.84,181.79 L562.86,180.57 L562.89,178.66 L562.91,176.06 L562.93,177.04 L562.95,175.08 L562.98,174.65 L563.00,172.81 L563.21,174.16 L563.43,175.58 L563.64,175.40 L563.86,177.49 L564.07,179.71 L564.29,179.29 L564.50,179.74 L565.25,184.59 L566.00,178.93 L566.05,180.64 L566.10,182.80 L566.15,182.88 L566.20,182.33 L566.25,185.57 L566.30,187.05 L566.35,186.58 L566.40,189.54 L566.45,189.66 L566.50,191.23 L566.55,189.82 L566.60,192.12 L566.65,194.49 L566.70,195.81 L566.75,196.17 L566.80,196.00 L566.88,197.16 L566.96,197.46 L567.03,199.94 L567.11,199.40 L567.19,201.11 L567.27,200.24 L567.34,201.72 L567.42,205.51 L567.50,205.02 L567.57,206.14 L567.65,205.06 L567.72,207.84 L567.79,210.55 L567.86,208.52 L567.94,208.75 L568.01,211.55 L568.08,212.20 L568.15,213.42 L568.23,213.51 L568.30,215.05 L568.38,213.52 L568.47,214.11 L568.55,212.59 L568.63,212.35 L568.72,209.81 L568.80,210.24 L568.88,208.42 L568.97,207.91 L569.05,207.66 L569.13,205.94 L569.22,204.66 L569.30,203.43 L569.40,205.05 L569.50,206.66 L569.60,206.47 L569.70,207.94 L569.80,208.40 L569.85,206.88 L569.89,207.34 L569.94,207.09 L569.98,204.74 L570.03,202.58 L570.07,202.68 L570.12,200.66 L570.16,200.76 L570.21,201.66 L570.25,199.26 L570.30,197.95 L570.40,199.90 L570.50,199.67 L570.60,201.29 L570.70,202.17 L570.80,203.15 L570.84,200.74 L570.88,201.61 L570.92,200.76 L570.95,197.03 L570.99,195.66 L571.03,196.22 L571.07,197.30 L571.11,195.02 L571.15,194.59 L571.18,193.49 L571.22,192.78 L571.26,190.44 L571.30,189.79 L571.37,189.33 L571.43,188.54 L571.50,187.51 L571.57,186.30 L571.63,184.56 L571.70,185.00 L571.77,183.43 L571.83,182.96 L571.90,178.69 L571.97,180.92 L572.03,176.77 L572.10,178.19 L572.17,176.39 L572.23,176.11 L572.30,174.82 L572.34,173.73 L572.38,173.22 L572.42,172.38 L572.47,170.34 L572.51,167.74 L572.55,168.39 L572.59,168.65 L572.63,166.37 L572.67,166.59 L572.72,164.86 L572.76,163.33 L572.80,164.36 L572.84,163.85 L572.88,161.19 L572.92,160.26 L572.97,160.25 L573.01,157.07 L573.05,156.53 L573.09,157.49 L573.13,156.29 L573.17,153.96 L573.22,152.70 L573.26,152.82 L573.30,150.95 L573.43,151.98 L573.56,153.21 L573.69,151.98 L573.82,155.96 L573.95,157.10 L574.08,158.37 L574.21,156.89 L574.34,158.01 L574.46,159.44 L574.59,159.94 L574.72,164.17 L574.85,162.20 L574.98,163.82 L575.11,165.29 L575.24,166.50 L575.37,168.42 L575.50,167.58 L575.53,169.83 L575.57,170.14 L575.61,169.90 L575.64,172.14 L575.67,171.69 L575.71,175.51 L575.75,174.32 L575.78,176.93 L575.82,178.20 L575.85,177.43 L575.88,178.17 L575.92,180.12 L575.96,180.04 L575.99,182.82 L576.03,183.16 L576.06,183.31 L576.10,184.38 L576.13,186.66 L576.17,185.69 L576.20,188.61 L576.23,186.29 L576.27,185.82 L576.30,184.16 L576.33,185.48 L576.37,183.75 L576.40,183.19 L576.43,181.60 L576.47,180.08 L576.50,180.56 L576.53,178.61 L576.57,177.40 L576.60,176.54 L576.63,175.69 L576.67,174.26 L576.70,172.84 L576.73,170.50 L576.77,172.94 L576.80,169.51 L576.82,168.97 L576.85,171.33 L576.87,174.81 L576.90,175.14 L576.92,174.44 L576.94,176.25 L576.97,176.98 L576.99,176.16 L577.02,178.69 L577.04,180.27 L577.06,182.08 L577.09,180.90 L577.11,180.94 L577.14,182.56 L577.16,185.30 L577.18,186.07 L577.21,187.14 L577.23,188.13 L577.26,188.67 L577.28,188.77 L577.30,191.41 L577.33,192.35 L577.35,193.51 L577.38,195.11 L577.40,194.56 L577.43,191.92 L577.46,191.41 L577.50,193.91 L577.53,190.18 L577.56,190.36 L577.59,188.99 L577.62,188.66 L577.66,189.91 L577.69,185.53 L577.72,184.84 L577.75,183.45 L577.78,183.22 L577.82,182.48 L577.85,180.11 L577.88,181.22 L577.91,180.06 L577.94,178.41 L577.98,176.90 L578.01,175.78 L578.04,173.46 L578.07,174.62 L578.10,172.08 L578.14,171.53 L578.17,171.94 L578.20,169.65 L578.25,170.51 L578.29,172.81 L578.34,174.75 L578.39,173.35 L578.44,176.03 L578.48,175.39 L578.53,177.36 L578.58,178.45 L578.62,177.94 L578.67,180.95 L578.72,182.66 L578.76,182.05 L578.81,183.25 L578.86,182.93 L578.91,186.63 L578.95,186.06 L579.00,186.54 L579.04,186.70 L579.08,183.67 L579.13,183.37 L579.17,181.04 L579.21,183.27 L579.25,183.04 L579.29,179.41 L579.34,178.39 L579.38,177.46 L579.42,176.47 L579.46,176.52 L579.51,176.37 L579.55,173.05 L579.59,173.41 L579.63,170.30 L579.67,172.44 L579.72,169.92 L579.76,168.33 L579.80,168.58 L579.86,168.90 L579.92,171.30 L579.97,172.02 L580.03,173.57 L580.09,172.25 L580.15,174.05 L580.21,175.35 L580.27,175.82 L580.33,178.42 L580.38,177.34 L580.44,179.93 L580.50,180.51 L580.56,177.19 L580.62,177.10 L580.68,176.16 L580.74,175.49 L580.79,175.37 L580.85,173.84 L580.91,173.07 L580.97,171.57 L581.03,170.92 L581.09,170.46 L581.15,169.71 L581.21,167.25 L581.26,166.89 L581.32,165.27 L581.38,164.83 L581.44,162.61 L581.50,163.37 L581.61,162.70 L581.72,160.96 L581.83,159.45 L581.93,158.72 L582.04,157.55 L582.15,155.73 L582.26,157.91 L582.37,158.60 L582.47,153.15 L582.58,152.25 L582.69,153.04 L582.80,151.74 L582.90,150.86 L583.00,151.44 L583.10,154.82 L583.20,153.24 L583.30,157.55 L583.40,156.58 L583.50,158.03 L583.58,157.08 L583.67,155.61 L583.75,155.11 L583.83,154.04 L583.92,154.65 L584.00,152.46 L584.01,153.47 L584.02,153.98 L584.03,154.88 L584.04,155.78 L584.05,157.51 L584.05,160.29 L584.06,160.59 L584.07,160.73 L584.08,163.12 L584.09,163.48 L584.10,163.70 L584.11,164.34 L584.12,164.45 L584.13,166.74 L584.14,167.20 L584.15,166.99 L584.15,168.28 L584.16,172.33 L584.17,171.70 L584.18,172.97 L584.19,173.69 L584.20,174.06 L584.21,175.93 L584.22,177.51 L584.23,177.21 L584.24,178.98 L584.25,180.45 L584.25,180.05 L584.26,181.66 L584.27,181.82 L584.28,184.05 L584.29,184.16 L584.30,186.54 L584.31,185.81 L584.32,189.03 L584.33,188.22 L584.34,188.74 L584.35,189.69 L584.35,192.09 L584.36,191.73 L584.37,195.11 L584.38,195.64 L584.39,195.96 L584.40,196.00 L584.45,195.51 L584.51,193.91 L584.56,191.97 L584.61,193.00 L584.66,193.62 L584.72,190.19 L584.77,190.44 L584.82,189.90 L584.88,186.89 L584.93,186.48 L584.98,186.07 L585.04,185.28 L585.09,182.83 L585.14,183.11 L585.19,181.84 L585.25,181.85 L585.30,179.41 L585.40,178.47 L585.50,177.53 L585.60,176.70 L585.70,176.68 L585.80,174.41 L585.90,176.59 L586.00,172.73 L586.33,174.85 L586.67,176.03 L587.00,176.39 L587.05,174.81 L587.10,173.22 L587.15,172.76 L587.20,172.63 L587.25,171.11 L587.30,170.55 L587.35,169.55 L587.40,167.16 L587.45,166.11 L587.50,167.38 L587.55,164.53 L587.60,163.39 L587.72,164.81 L587.83,161.19 L587.95,160.09 L588.07,160.95 L588.18,157.89 L588.30,157.66 L588.35,158.03 L588.41,155.19 L588.46,157.47 L588.52,154.10 L588.57,155.66 L588.62,152.13 L588.68,151.06 L588.73,149.36 L588.78,148.78 L588.84,147.50 L588.89,146.98 L588.95,146.78 L589.00,144.49 L589.06,143.07 L589.12,140.87 L589.17,143.53 L589.23,140.92 L589.29,139.99 L589.35,138.94 L589.41,139.03 L589.47,137.33 L589.53,136.88 L589.58,134.83 L589.64,133.87 L589.70,132.98 L589.93,132.00 L590.17,136.17 L590.40,135.32 L590.43,134.00 L590.45,134.74 L590.48,133.13 L590.51,132.94 L590.54,132.89 L590.56,132.08 L590.59,130.61 L590.62,127.95 L590.65,129.36 L590.67,125.30 L590.70,125.16 L590.73,125.33 L590.75,123.07 L590.78,122.19 L590.81,120.96 L590.84,121.82 L590.86,116.75 L590.89,119.77 L590.92,118.57 L590.95,116.38 L590.97,116.08 L591.00,114.08" fill="none" stroke="#1f77b4" stroke-width="3.4" stroke-linejoin="round" stroke-linecap="butt"/>
<g font-size="19.2" text-anchor="middle" opacity="0.999">
<text x="103" y="447" textLength="46.2" lengthAdjust="spacingAndGlyphs">2005</text>
<text x="222" y="447" textLength="46.2" lengthAdjust="spacingAndGlyphs">2010</text>
<text x="340.5" y="447" textLength="46.2" lengthAdjust="spacingAndGlyphs">2015</text>
<text x="459" y="447" textLength="46.2" lengthAdjust="spacingAndGlyphs">2020</text>
</g>
</svg>
</body></html>
